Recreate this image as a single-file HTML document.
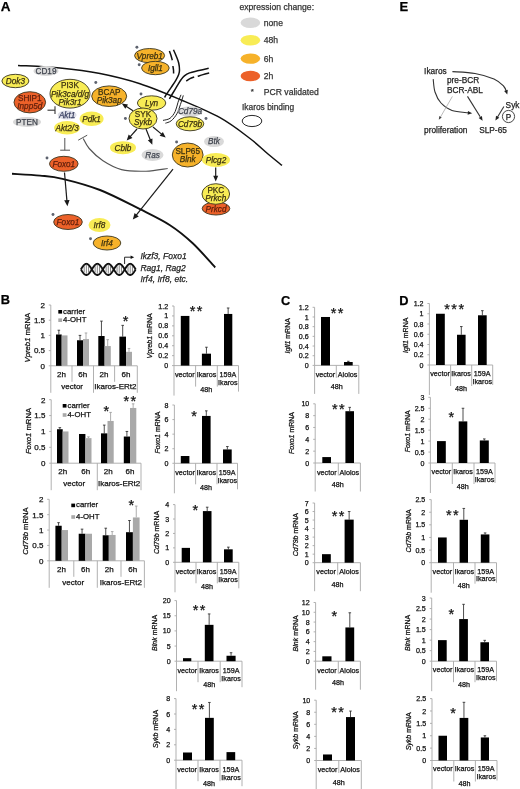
<!DOCTYPE html>
<html><head><meta charset="utf-8"><style>
html,body{margin:0;padding:0;background:#fff;}
svg{display:block;will-change:transform;filter:blur(0.35px);font-family:"Liberation Sans", sans-serif;}
</style></head><body>
<svg width="520" height="789" viewBox="0 0 520 789">
<rect width="520" height="789" fill="#fff"/>
<text x="0.80" y="11.20" font-size="13.5" text-anchor="start" fill="#000" stroke="#000" stroke-width="0.25" font-weight="bold" >A</text>
<path d="M18.00,65.40 C25.00,65.83 46.33,66.63 60.00,68.00 C73.67,69.37 86.67,70.97 100.00,73.60 C113.33,76.23 126.67,79.48 140.00,83.80 C153.33,88.12 166.67,93.85 180.00,99.50 C193.33,105.15 208.33,111.20 220.00,117.70 C231.67,124.20 242.00,132.45 250.00,138.50 C258.00,144.55 262.67,149.52 268.00,154.00 C273.33,158.48 279.67,163.50 282.00,165.40" stroke="#111" stroke-width="1.5" fill="none" />
<path d="M12.00,173.80 C16.67,174.10 31.58,174.77 40.00,175.60 C48.42,176.43 52.50,176.40 62.50,178.80 C72.50,181.20 87.08,184.93 100.00,190.00 C112.92,195.07 128.33,203.33 140.00,209.20 C151.67,215.07 161.17,219.48 170.00,225.20 C178.83,230.92 185.47,236.45 193.00,243.50 C200.53,250.55 211.50,263.50 215.20,267.50" stroke="#111" stroke-width="1.9" fill="none" />
<path d="M167.70,168.50 C164.08,168.95 153.70,171.02 146.00,171.20 C138.30,171.38 128.67,171.33 121.50,169.60 C114.33,167.87 108.38,164.32 103.00,160.80 C97.62,157.28 92.50,152.22 89.20,148.50 C85.90,144.78 84.20,140.17 83.20,138.50" stroke="#555" stroke-width="1.15" fill="none" />
<line x1="78.20" y1="140.20" x2="87.20" y2="135.20" stroke="#555" stroke-width="1.0" />
<path d="M173.50,49.80 C173.97,50.87 175.43,54.00 176.30,56.20 C177.17,58.40 178.17,60.70 178.70,63.00 C179.23,65.30 179.50,68.07 179.50,70.00 C179.50,71.93 179.32,72.87 178.70,74.60 C178.08,76.33 177.05,78.28 175.80,80.40 C174.55,82.52 172.75,85.00 171.20,87.30 C169.65,89.60 167.60,92.50 166.50,94.20 C165.40,95.90 164.92,96.95 164.60,97.50" stroke="#111" stroke-width="1.5" fill="none" />
<path d="M169.40,51.00 C169.67,51.75 170.52,53.97 171.00,55.50 C171.48,57.03 172.08,59.42 172.30,60.20" stroke="#111" stroke-width="1.5" fill="none" />
<path d="M172.90,66.00 C173.00,66.67 173.38,68.75 173.50,70.00 C173.62,71.25 173.58,72.92 173.60,73.50" stroke="#111" stroke-width="1.5" fill="none" />
<path d="M208.70,68.30 C207.05,68.68 201.98,69.83 198.80,70.60 C195.62,71.37 192.00,72.03 189.60,72.90 C187.20,73.77 185.83,74.65 184.40,75.80 C182.97,76.95 182.23,78.07 181.00,79.80 C179.77,81.53 178.35,84.00 177.00,86.20 C175.65,88.40 174.17,90.90 172.90,93.00 C171.63,95.10 169.98,97.83 169.40,98.80" stroke="#111" stroke-width="1.5" fill="none" />
<path d="M209.20,72.90 C208.17,73.18 204.92,74.03 203.00,74.60 C201.08,75.17 198.58,76.02 197.70,76.30" stroke="#111" stroke-width="1.5" fill="none" />
<path d="M194.20,76.90 C193.50,77.18 191.33,77.92 190.00,78.60 C188.67,79.28 186.83,80.60 186.20,81.00" stroke="#111" stroke-width="1.5" fill="none" />
<path d="M181.00,94.80 C180.50,96.05 178.97,99.52 178.00,102.30 C177.03,105.08 176.53,108.83 175.20,111.50 C173.87,114.17 172.03,116.82 170.00,118.30 C167.97,119.78 164.17,120.05 163.00,120.40" stroke="#222" stroke-width="1.0" fill="none" />
<path d="M183.30,95.40 C182.82,96.93 181.47,101.53 180.40,104.60 C179.33,107.67 178.43,111.10 176.90,113.80 C175.37,116.50 173.12,119.23 171.20,120.80 C169.28,122.37 166.37,122.80 165.40,123.20" stroke="#222" stroke-width="1.0" fill="none" />
<line x1="47.50" y1="110.20" x2="55.00" y2="110.20" stroke="#333" stroke-width="1.1" />
<line x1="55.00" y1="106.30" x2="55.00" y2="114.00" stroke="#333" stroke-width="1.1" />
<line x1="64.80" y1="138.00" x2="64.80" y2="150.20" stroke="#555" stroke-width="1.0" />
<line x1="60.20" y1="150.20" x2="70.00" y2="150.20" stroke="#555" stroke-width="1.0" />
<line x1="64.50" y1="172.50" x2="66.98" y2="201.36" stroke="#1a1a1a" stroke-width="1.2" />
<polygon points="67.40,206.30 64.18,200.35 69.56,199.89" fill="#1a1a1a"/>
<line x1="133.00" y1="110.80" x2="125.69" y2="106.03" stroke="#1a1a1a" stroke-width="1.2" />
<polygon points="121.80,103.50 128.02,104.57 125.29,108.76" fill="#1a1a1a"/>
<line x1="137.00" y1="129.00" x2="129.78" y2="137.13" stroke="#1a1a1a" stroke-width="1.2" />
<polygon points="126.70,140.60 128.68,134.60 132.42,137.92" fill="#1a1a1a"/>
<line x1="146.00" y1="129.00" x2="150.58" y2="140.49" stroke="#1a1a1a" stroke-width="1.2" />
<polygon points="152.30,144.80 147.83,140.34 152.47,138.49" fill="#1a1a1a"/>
<line x1="153.00" y1="127.00" x2="162.14" y2="134.63" stroke="#1a1a1a" stroke-width="1.2" />
<polygon points="165.70,137.60 159.65,135.80 162.85,131.96" fill="#1a1a1a"/>
<line x1="173.00" y1="169.20" x2="135.89" y2="215.72" stroke="#1a1a1a" stroke-width="1.2" />
<polygon points="132.80,219.60 134.56,213.07 138.78,216.44" fill="#1a1a1a"/>
<line x1="215.70" y1="167.50" x2="215.70" y2="176.86" stroke="#1a1a1a" stroke-width="1.2" />
<polygon points="215.70,181.50 213.20,175.70 218.20,175.70" fill="#1a1a1a"/>
<ellipse cx="46" cy="71" rx="12.5" ry="5" fill="#d9d9d9"/>
<text x="46.00" y="73.95" font-size="8.2" text-anchor="middle" fill="#40454f" stroke="#40454f" stroke-width="0.25" >CD19</text>
<ellipse cx="15.4" cy="81" rx="13.5" ry="6.7" fill="#f8ec55" stroke="#3a3520" stroke-width="0.9"/>
<text x="15.40" y="83.95" font-size="8.2" text-anchor="middle" fill="#3a3010" stroke="#3a3010" stroke-width="0.25" font-style="italic" >Dok3</text>
<ellipse cx="29.8" cy="102.3" rx="15.8" ry="10.6" fill="#ec6129" stroke="#3a3520" stroke-width="0.9"/>
<text x="29.80" y="101.25" font-size="8.2" text-anchor="middle" fill="#62200c" stroke="#62200c" stroke-width="0.25" >SHIP1</text>
<text x="29.80" y="109.25" font-size="8.2" text-anchor="middle" fill="#62200c" stroke="#62200c" stroke-width="0.25" font-style="italic" >Inpp5d</text>
<ellipse cx="27" cy="122" rx="14" ry="5" fill="#d9d9d9"/>
<text x="27.00" y="124.95" font-size="8.2" text-anchor="middle" fill="#40454f" stroke="#40454f" stroke-width="0.25" >PTEN</text>
<ellipse cx="70" cy="93.7" rx="20" ry="14.4" fill="#f8ec55" stroke="#3a3520" stroke-width="0.9"/>
<text x="70.00" y="88.45" font-size="8.2" text-anchor="middle" fill="#3a3010" stroke="#3a3010" stroke-width="0.25" >PI3K</text>
<text x="70.00" y="96.65" font-size="8.2" text-anchor="middle" fill="#3a3010" stroke="#3a3010" stroke-width="0.25" font-style="italic" >Pik3ca/d/g</text>
<text x="70.00" y="104.85" font-size="8.2" text-anchor="middle" fill="#3a3010" stroke="#3a3010" stroke-width="0.25" font-style="italic" >Pik3r1</text>
<ellipse cx="109.2" cy="96.2" rx="17.5" ry="10.3" fill="#f6b22a" stroke="#3a3520" stroke-width="0.9"/>
<text x="109.20" y="95.15" font-size="8.2" text-anchor="middle" fill="#3a3010" stroke="#3a3010" stroke-width="0.25" >BCAP</text>
<text x="109.20" y="103.15" font-size="8.2" text-anchor="middle" fill="#3a3010" stroke="#3a3010" stroke-width="0.25" font-style="italic" >Pik3ap</text>
<ellipse cx="67.1" cy="115" rx="9.5" ry="4.6" fill="#dcdde6"/>
<text x="67.10" y="117.95" font-size="8.2" text-anchor="middle" fill="#3b4262" stroke="#3b4262" stroke-width="0.25" font-style="italic" >Akt1</text>
<ellipse cx="91.6" cy="118.8" rx="12" ry="7.3" fill="#f8ec55"/>
<text x="91.60" y="121.75" font-size="8.2" text-anchor="middle" fill="#3a3010" stroke="#3a3010" stroke-width="0.25" font-style="italic" >Pdk1</text>
<ellipse cx="67.1" cy="127.7" rx="13" ry="6.8" fill="#f8ec55"/>
<text x="67.10" y="130.65" font-size="8.2" text-anchor="middle" fill="#3a3010" stroke="#3a3010" stroke-width="0.25" font-style="italic" >Akt2/3</text>
<ellipse cx="149.6" cy="55.6" rx="15" ry="7.1" fill="#f6b22a" stroke="#3a3520" stroke-width="0.9"/>
<text x="149.60" y="58.55" font-size="8.2" text-anchor="middle" fill="#3a3010" stroke="#3a3010" stroke-width="0.25" font-style="italic" >Vpreb1</text>
<ellipse cx="155.4" cy="68" rx="13.8" ry="6.7" fill="#f6b22a" stroke="#3a3520" stroke-width="0.9"/>
<text x="155.40" y="70.95" font-size="8.2" text-anchor="middle" fill="#3a3010" stroke="#3a3010" stroke-width="0.25" font-style="italic" >Igll1</text>
<ellipse cx="151.6" cy="103" rx="14.2" ry="7.2" fill="#f8ec55" stroke="#3a3520" stroke-width="0.9"/>
<text x="151.60" y="105.95" font-size="8.2" text-anchor="middle" fill="#3a3010" stroke="#3a3010" stroke-width="0.25" font-style="italic" >Lyn</text>
<ellipse cx="143" cy="118.5" rx="14" ry="10.5" fill="#f8ec55" stroke="#3a3520" stroke-width="0.9"/>
<text x="143.00" y="117.45" font-size="8.2" text-anchor="middle" fill="#3a3010" stroke="#3a3010" stroke-width="0.25" >SYK</text>
<text x="143.00" y="125.45" font-size="8.2" text-anchor="middle" fill="#3a3010" stroke="#3a3010" stroke-width="0.25" font-style="italic" >Sykb</text>
<ellipse cx="190" cy="111.5" rx="12.5" ry="5.2" fill="#d9d9d9"/>
<text x="190.00" y="114.45" font-size="8.2" text-anchor="middle" fill="#40454f" stroke="#40454f" stroke-width="0.25" font-style="italic" >Cd79a</text>
<ellipse cx="190" cy="123.8" rx="13.8" ry="7" fill="#f8ec55" stroke="#3a3520" stroke-width="0.9"/>
<text x="190.00" y="126.75" font-size="8.2" text-anchor="middle" fill="#3a3010" stroke="#3a3010" stroke-width="0.25" font-style="italic" >Cd79b</text>
<ellipse cx="123" cy="147.7" rx="13" ry="6.5" fill="#f8ec55"/>
<text x="123.00" y="150.65" font-size="8.2" text-anchor="middle" fill="#3a3010" stroke="#3a3010" stroke-width="0.25" font-style="italic" >Cblb</text>
<ellipse cx="152.5" cy="155" rx="11" ry="6" fill="#d9d9d9"/>
<text x="152.50" y="157.95" font-size="8.2" text-anchor="middle" fill="#40454f" stroke="#40454f" stroke-width="0.25" font-style="italic" >Ras</text>
<ellipse cx="187.7" cy="155" rx="15.4" ry="12" fill="#f6b22a" stroke="#3a3520" stroke-width="0.9"/>
<text x="187.70" y="153.85" font-size="8.2" text-anchor="middle" fill="#3a3010" stroke="#3a3010" stroke-width="0.25" >SLP65</text>
<text x="187.70" y="162.05" font-size="8.2" text-anchor="middle" fill="#3a3010" stroke="#3a3010" stroke-width="0.25" font-style="italic" >Blnk</text>
<ellipse cx="214" cy="141.5" rx="10" ry="5.5" fill="#d9d9d9"/>
<text x="214.00" y="144.45" font-size="8.2" text-anchor="middle" fill="#40454f" stroke="#40454f" stroke-width="0.25" font-style="italic" >Btk</text>
<ellipse cx="216" cy="160" rx="14" ry="7" fill="#f8ec55"/>
<text x="216.00" y="162.95" font-size="8.2" text-anchor="middle" fill="#3a3010" stroke="#3a3010" stroke-width="0.25" font-style="italic" >Plcg2</text>
<ellipse cx="216" cy="208.5" rx="13.8" ry="6.5" fill="#ec6129" stroke="#3a3520" stroke-width="0.9"/>
<text x="216.00" y="212.45" font-size="8.2" text-anchor="middle" fill="#62200c" stroke="#62200c" stroke-width="0.25" font-style="italic" >Prkcd</text>
<ellipse cx="215.8" cy="194" rx="13.8" ry="10.3" fill="#f8ec55" stroke="#3a3520" stroke-width="0.9"/>
<text x="215.80" y="192.95" font-size="8.2" text-anchor="middle" fill="#3a3010" stroke="#3a3010" stroke-width="0.25" >PKC</text>
<text x="215.80" y="200.95" font-size="8.2" text-anchor="middle" fill="#3a3010" stroke="#3a3010" stroke-width="0.25" font-style="italic" >Prkch</text>
<ellipse cx="63.8" cy="163.8" rx="14.3" ry="7.5" fill="#ec6129" stroke="#3a3520" stroke-width="0.9"/>
<text x="63.80" y="166.75" font-size="8.2" text-anchor="middle" fill="#62200c" stroke="#62200c" stroke-width="0.25" font-style="italic" >Foxo1</text>
<ellipse cx="68" cy="222" rx="14.3" ry="7.5" fill="#ec6129" stroke="#3a3520" stroke-width="0.9"/>
<text x="68.00" y="224.95" font-size="8.2" text-anchor="middle" fill="#62200c" stroke="#62200c" stroke-width="0.25" font-style="italic" >Foxo1</text>
<ellipse cx="99.5" cy="225" rx="11" ry="7" fill="#f8ec55"/>
<text x="99.50" y="227.95" font-size="8.2" text-anchor="middle" fill="#3a3010" stroke="#3a3010" stroke-width="0.25" font-style="italic" >Irf8</text>
<ellipse cx="107" cy="243" rx="13.8" ry="7" fill="#f6b22a" stroke="#3a3520" stroke-width="0.9"/>
<text x="107.00" y="245.95" font-size="8.2" text-anchor="middle" fill="#3a3010" stroke="#3a3010" stroke-width="0.25" font-style="italic" >Irf4</text>
<circle cx="136.9" cy="47.2" r="1.45" fill="#5d626e"/>
<circle cx="139.2" cy="64.8" r="1.45" fill="#5d626e"/>
<circle cx="141" cy="94" r="1.45" fill="#5d626e"/>
<circle cx="125.4" cy="118.5" r="1.45" fill="#5d626e"/>
<circle cx="95.8" cy="82.5" r="1.45" fill="#5d626e"/>
<circle cx="206" cy="118.5" r="1.45" fill="#5d626e"/>
<circle cx="176.6" cy="142" r="1.45" fill="#5d626e"/>
<circle cx="47" cy="158" r="1.45" fill="#5d626e"/>
<circle cx="53" cy="214.5" r="1.45" fill="#5d626e"/>
<circle cx="90.5" cy="238.8" r="1.45" fill="#5d626e"/>
<line x1="84.19" y1="266.17" x2="84.19" y2="272.63" stroke="#777" stroke-width="0.9" />
<line x1="86.38" y1="265.10" x2="86.38" y2="273.70" stroke="#777" stroke-width="0.9" />
<line x1="88.57" y1="266.17" x2="88.57" y2="272.63" stroke="#777" stroke-width="0.9" />
<line x1="95.15" y1="266.17" x2="95.15" y2="272.63" stroke="#777" stroke-width="0.9" />
<line x1="97.34" y1="265.10" x2="97.34" y2="273.70" stroke="#777" stroke-width="0.9" />
<line x1="99.53" y1="266.17" x2="99.53" y2="272.63" stroke="#777" stroke-width="0.9" />
<line x1="106.11" y1="266.17" x2="106.11" y2="272.63" stroke="#777" stroke-width="0.9" />
<line x1="108.30" y1="265.10" x2="108.30" y2="273.70" stroke="#777" stroke-width="0.9" />
<line x1="110.49" y1="266.17" x2="110.49" y2="272.63" stroke="#777" stroke-width="0.9" />
<line x1="117.07" y1="266.17" x2="117.07" y2="272.63" stroke="#777" stroke-width="0.9" />
<line x1="119.26" y1="265.10" x2="119.26" y2="273.70" stroke="#777" stroke-width="0.9" />
<line x1="121.45" y1="266.17" x2="121.45" y2="272.63" stroke="#777" stroke-width="0.9" />
<line x1="128.03" y1="266.17" x2="128.03" y2="272.63" stroke="#777" stroke-width="0.9" />
<line x1="130.22" y1="265.10" x2="130.22" y2="273.70" stroke="#777" stroke-width="0.9" />
<line x1="132.41" y1="266.17" x2="132.41" y2="272.63" stroke="#777" stroke-width="0.9" />
<polyline points="80.90,269.40 81.17,269.84 81.45,270.28 81.72,270.71 82.00,271.13 82.27,271.54 82.54,271.94 82.82,272.33 83.09,272.69 83.37,273.04 83.64,273.36 83.91,273.66 84.19,273.93 84.46,274.17 84.74,274.39 85.01,274.57 85.28,274.73 85.56,274.85 85.83,274.93 86.11,274.98 86.38,275.00 86.65,274.98 86.93,274.93 87.20,274.85 87.48,274.73 87.75,274.57 88.02,274.39 88.30,274.17 88.57,273.93 88.85,273.66 89.12,273.36 89.39,273.04 89.67,272.69 89.94,272.33 90.22,271.94 90.49,271.54 90.76,271.13 91.04,270.71 91.31,270.28 91.59,269.84 91.86,269.40 92.13,268.96 92.41,268.52 92.68,268.09 92.96,267.67 93.23,267.26 93.50,266.86 93.78,266.47 94.05,266.11 94.33,265.76 94.60,265.44 94.87,265.14 95.15,264.87 95.42,264.63 95.70,264.41 95.97,264.23 96.24,264.07 96.52,263.95 96.79,263.87 97.07,263.82 97.34,263.80 97.61,263.82 97.89,263.87 98.16,263.95 98.44,264.07 98.71,264.23 98.98,264.41 99.26,264.63 99.53,264.87 99.81,265.14 100.08,265.44 100.35,265.76 100.63,266.11 100.90,266.47 101.18,266.86 101.45,267.26 101.72,267.67 102.00,268.09 102.27,268.52 102.55,268.96 102.82,269.40 103.09,269.84 103.37,270.28 103.64,270.71 103.92,271.13 104.19,271.54 104.46,271.94 104.74,272.33 105.01,272.69 105.29,273.04 105.56,273.36 105.83,273.66 106.11,273.93 106.38,274.17 106.66,274.39 106.93,274.57 107.20,274.73 107.48,274.85 107.75,274.93 108.03,274.98 108.30,275.00 108.57,274.98 108.85,274.93 109.12,274.85 109.40,274.73 109.67,274.57 109.94,274.39 110.22,274.17 110.49,273.93 110.77,273.66 111.04,273.36 111.31,273.04 111.59,272.69 111.86,272.33 112.14,271.94 112.41,271.54 112.68,271.13 112.96,270.71 113.23,270.28 113.51,269.84 113.78,269.40 114.05,268.96 114.33,268.52 114.60,268.09 114.88,267.67 115.15,267.26 115.42,266.86 115.70,266.47 115.97,266.11 116.25,265.76 116.52,265.44 116.79,265.14 117.07,264.87 117.34,264.63 117.62,264.41 117.89,264.23 118.16,264.07 118.44,263.95 118.71,263.87 118.99,263.82 119.26,263.80 119.53,263.82 119.81,263.87 120.08,263.95 120.36,264.07 120.63,264.23 120.90,264.41 121.18,264.63 121.45,264.87 121.73,265.14 122.00,265.44 122.27,265.76 122.55,266.11 122.82,266.47 123.10,266.86 123.37,267.26 123.64,267.67 123.92,268.09 124.19,268.52 124.47,268.96 124.74,269.40 125.01,269.84 125.29,270.28 125.56,270.71 125.84,271.13 126.11,271.54 126.38,271.94 126.66,272.33 126.93,272.69 127.21,273.04 127.48,273.36 127.75,273.66 128.03,273.93 128.30,274.17 128.58,274.39 128.85,274.57 129.12,274.73 129.40,274.85 129.67,274.93 129.95,274.98 130.22,275.00 130.49,274.98 130.77,274.93 131.04,274.85 131.32,274.73 131.59,274.57 131.86,274.39 132.14,274.17 132.41,273.93 132.69,273.66 132.96,273.36 133.23,273.04 133.51,272.69 133.78,272.33 134.06,271.94 134.33,271.54 134.60,271.13 134.88,270.71 135.15,270.28 135.43,269.84 135.70,269.40" fill="none" stroke="#111" stroke-width="1.9"/>
<polyline points="80.90,269.40 81.17,268.96 81.45,268.52 81.72,268.09 82.00,267.67 82.27,267.26 82.54,266.86 82.82,266.47 83.09,266.11 83.37,265.76 83.64,265.44 83.91,265.14 84.19,264.87 84.46,264.63 84.74,264.41 85.01,264.23 85.28,264.07 85.56,263.95 85.83,263.87 86.11,263.82 86.38,263.80 86.65,263.82 86.93,263.87 87.20,263.95 87.48,264.07 87.75,264.23 88.02,264.41 88.30,264.63 88.57,264.87 88.85,265.14 89.12,265.44 89.39,265.76 89.67,266.11 89.94,266.47 90.22,266.86 90.49,267.26 90.76,267.67 91.04,268.09 91.31,268.52 91.59,268.96 91.86,269.40 92.13,269.84 92.41,270.28 92.68,270.71 92.96,271.13 93.23,271.54 93.50,271.94 93.78,272.33 94.05,272.69 94.33,273.04 94.60,273.36 94.87,273.66 95.15,273.93 95.42,274.17 95.70,274.39 95.97,274.57 96.24,274.73 96.52,274.85 96.79,274.93 97.07,274.98 97.34,275.00 97.61,274.98 97.89,274.93 98.16,274.85 98.44,274.73 98.71,274.57 98.98,274.39 99.26,274.17 99.53,273.93 99.81,273.66 100.08,273.36 100.35,273.04 100.63,272.69 100.90,272.33 101.18,271.94 101.45,271.54 101.72,271.13 102.00,270.71 102.27,270.28 102.55,269.84 102.82,269.40 103.09,268.96 103.37,268.52 103.64,268.09 103.92,267.67 104.19,267.26 104.46,266.86 104.74,266.47 105.01,266.11 105.29,265.76 105.56,265.44 105.83,265.14 106.11,264.87 106.38,264.63 106.66,264.41 106.93,264.23 107.20,264.07 107.48,263.95 107.75,263.87 108.03,263.82 108.30,263.80 108.57,263.82 108.85,263.87 109.12,263.95 109.40,264.07 109.67,264.23 109.94,264.41 110.22,264.63 110.49,264.87 110.77,265.14 111.04,265.44 111.31,265.76 111.59,266.11 111.86,266.47 112.14,266.86 112.41,267.26 112.68,267.67 112.96,268.09 113.23,268.52 113.51,268.96 113.78,269.40 114.05,269.84 114.33,270.28 114.60,270.71 114.88,271.13 115.15,271.54 115.42,271.94 115.70,272.33 115.97,272.69 116.25,273.04 116.52,273.36 116.79,273.66 117.07,273.93 117.34,274.17 117.62,274.39 117.89,274.57 118.16,274.73 118.44,274.85 118.71,274.93 118.99,274.98 119.26,275.00 119.53,274.98 119.81,274.93 120.08,274.85 120.36,274.73 120.63,274.57 120.90,274.39 121.18,274.17 121.45,273.93 121.73,273.66 122.00,273.36 122.27,273.04 122.55,272.69 122.82,272.33 123.10,271.94 123.37,271.54 123.64,271.13 123.92,270.71 124.19,270.28 124.47,269.84 124.74,269.40 125.01,268.96 125.29,268.52 125.56,268.09 125.84,267.67 126.11,267.26 126.38,266.86 126.66,266.47 126.93,266.11 127.21,265.76 127.48,265.44 127.75,265.14 128.03,264.87 128.30,264.63 128.58,264.41 128.85,264.23 129.12,264.07 129.40,263.95 129.67,263.87 129.95,263.82 130.22,263.80 130.49,263.82 130.77,263.87 131.04,263.95 131.32,264.07 131.59,264.23 131.86,264.41 132.14,264.63 132.41,264.87 132.69,265.14 132.96,265.44 133.23,265.76 133.51,266.11 133.78,266.47 134.06,266.86 134.33,267.26 134.60,267.67 134.88,268.09 135.15,268.52 135.43,268.96 135.70,269.40" fill="none" stroke="#111" stroke-width="1.9"/>
<path d="M124.6,264 L124.6,257.2 L131.5,257.2" stroke="#111" stroke-width="0.9" fill="none" />
<polygon points="134.2,257.2 130.6,255.5 130.6,258.9" fill="#111"/>
<text x="140.40" y="259.20" font-size="8.5" text-anchor="start" fill="#222" stroke="#222" stroke-width="0.25" font-style="italic" >Ikzf3, Foxo1</text>
<text x="140.40" y="270.60" font-size="8.5" text-anchor="start" fill="#222" stroke="#222" stroke-width="0.25" font-style="italic" >Rag1, Rag2</text>
<text x="140.40" y="282.30" font-size="8.5" text-anchor="start" fill="#222" stroke="#222" stroke-width="0.25" font-style="italic" >Irf4, Irf8, etc.</text>
<text x="239.50" y="10.00" font-size="8.6" text-anchor="start" fill="#333" stroke="#333" stroke-width="0.25" >expression change:</text>
<ellipse cx="250.4" cy="22.8" rx="9.8" ry="5.2" fill="#d9d9d9"/>
<text x="263.80" y="26.00" font-size="8.6" text-anchor="start" fill="#333" stroke="#333" stroke-width="0.25" >none</text>
<ellipse cx="250.4" cy="40.2" rx="9.8" ry="5.2" fill="#f8ec55"/>
<text x="263.80" y="43.40" font-size="8.6" text-anchor="start" fill="#333" stroke="#333" stroke-width="0.25" >48h</text>
<ellipse cx="250.4" cy="58.6" rx="9.8" ry="5.2" fill="#f6b22a"/>
<text x="263.80" y="61.80" font-size="8.6" text-anchor="start" fill="#333" stroke="#333" stroke-width="0.25" >6h</text>
<ellipse cx="250.4" cy="76" rx="9.8" ry="5.2" fill="#ec6129"/>
<text x="263.80" y="79.20" font-size="8.6" text-anchor="start" fill="#333" stroke="#333" stroke-width="0.25" >2h</text>
<text x="252.30" y="93.50" font-size="8" text-anchor="middle" fill="#333" stroke="#333" stroke-width="0.25" >*</text>
<text x="263.80" y="95.20" font-size="8.6" text-anchor="start" fill="#333" stroke="#333" stroke-width="0.25" >PCR validated</text>
<text x="242.00" y="109.60" font-size="8.4" text-anchor="start" fill="#333" stroke="#333" stroke-width="0.25" >Ikaros binding</text>
<ellipse cx="252" cy="121" rx="9.8" ry="5.6" fill="none" stroke="#111" stroke-width="0.9"/>
<text x="399.60" y="11.40" font-size="13" text-anchor="start" fill="#000" stroke="#000" stroke-width="0.25" font-weight="bold" >E</text>
<text x="424.10" y="74.20" font-size="8.3" text-anchor="start" fill="#222" stroke="#222" stroke-width="0.25" >Ikaros</text>
<text x="446.90" y="83.30" font-size="8.3" text-anchor="start" fill="#222" stroke="#222" stroke-width="0.25" >pre-BCR</text>
<text x="446.90" y="93.40" font-size="8.3" text-anchor="start" fill="#222" stroke="#222" stroke-width="0.25" >BCR-ABL</text>
<text x="505.60" y="107.50" font-size="8.3" text-anchor="start" fill="#222" stroke="#222" stroke-width="0.25" >Syk</text>
<circle cx="508.5" cy="116.5" r="6.1" fill="none" stroke="#333" stroke-width="0.9"/>
<text x="508.50" y="119.50" font-size="8.2" text-anchor="middle" fill="#222" stroke="#222" stroke-width="0.25" >P</text>
<text x="424.10" y="133.40" font-size="8.3" text-anchor="start" fill="#222" stroke="#222" stroke-width="0.25" >proliferation</text>
<text x="479.20" y="133.40" font-size="8.3" text-anchor="start" fill="#222" stroke="#222" stroke-width="0.25" >SLP-65</text>
<path d="M452.40,71.60 C456.17,71.92 468.07,72.27 475.00,73.50 C481.93,74.73 489.25,76.92 494.00,79.00 C498.75,81.08 501.40,83.83 503.50,86.00 C505.60,88.17 506.08,91.00 506.60,92.00" stroke="#333" stroke-width="1.1" fill="none" />
<polygon points="507.30,94.60 504.14,90.99 507.76,89.83" fill="#222"/>
<path d="M433.20,79.20 C433.50,81.33 433.70,88.03 435.00,92.00 C436.30,95.97 438.17,99.92 441.00,103.00 C443.83,106.08 447.50,108.87 452.00,110.50 C456.50,112.13 465.33,112.42 468.00,112.80" stroke="#333" stroke-width="1.1" fill="none" />
<polygon points="472.20,113.20 467.66,114.74 467.97,110.95" fill="#222"/>
<line x1="452.40" y1="96.40" x2="440.20" y2="117.50" stroke="#aaa" stroke-width="0.8" />
<polygon points="438.80,119.70 439.30,116.06 441.72,117.47" fill="#444"/>
<line x1="467.50" y1="96.40" x2="480.20" y2="116.80" stroke="#333" stroke-width="1.1" />
<polygon points="482.60,120.70 478.66,117.97 481.89,115.96" fill="#222"/>
<line x1="503.90" y1="106.50" x2="497.40" y2="117.20" stroke="#333" stroke-width="1.1" />
<polygon points="495.40,120.60 496.04,115.85 499.30,117.81" fill="#222"/>
<line x1="174.00" y1="306.00" x2="174.00" y2="365.60" stroke="#a8a8a8" stroke-width="0.9" />
<line x1="172.00" y1="365.60" x2="174.00" y2="365.60" stroke="#a8a8a8" stroke-width="0.9" />
<text x="168.10" y="368.16" font-size="7.1" text-anchor="end" fill="#111" stroke="#111" stroke-width="0.25" >0</text>
<line x1="172.00" y1="355.67" x2="174.00" y2="355.67" stroke="#a8a8a8" stroke-width="0.9" />
<text x="168.10" y="358.22" font-size="7.1" text-anchor="end" fill="#111" stroke="#111" stroke-width="0.25" >0.2</text>
<line x1="172.00" y1="345.73" x2="174.00" y2="345.73" stroke="#a8a8a8" stroke-width="0.9" />
<text x="168.10" y="348.29" font-size="7.1" text-anchor="end" fill="#111" stroke="#111" stroke-width="0.25" >0.4</text>
<line x1="172.00" y1="335.80" x2="174.00" y2="335.80" stroke="#a8a8a8" stroke-width="0.9" />
<text x="168.10" y="338.36" font-size="7.1" text-anchor="end" fill="#111" stroke="#111" stroke-width="0.25" >0.6</text>
<line x1="172.00" y1="325.87" x2="174.00" y2="325.87" stroke="#a8a8a8" stroke-width="0.9" />
<text x="168.10" y="328.42" font-size="7.1" text-anchor="end" fill="#111" stroke="#111" stroke-width="0.25" >0.8</text>
<line x1="172.00" y1="315.93" x2="174.00" y2="315.93" stroke="#a8a8a8" stroke-width="0.9" />
<text x="168.10" y="318.49" font-size="7.1" text-anchor="end" fill="#111" stroke="#111" stroke-width="0.25" >1</text>
<line x1="172.00" y1="306.00" x2="174.00" y2="306.00" stroke="#a8a8a8" stroke-width="0.9" />
<text x="168.10" y="308.56" font-size="7.1" text-anchor="end" fill="#111" stroke="#111" stroke-width="0.25" >1.2</text>
<line x1="174.00" y1="365.60" x2="238.50" y2="365.60" stroke="#a8a8a8" stroke-width="0.9" />
<line x1="174.00" y1="365.60" x2="174.00" y2="395.60" stroke="#a8a8a8" stroke-width="0.9" />
<line x1="238.50" y1="365.60" x2="238.50" y2="391.60" stroke="#a8a8a8" stroke-width="0.9" />
<line x1="195.60" y1="365.60" x2="195.60" y2="386.60" stroke="#a8a8a8" stroke-width="0.9" />
<line x1="217.30" y1="365.60" x2="217.30" y2="386.60" stroke="#a8a8a8" stroke-width="0.9" />
<rect x="180.80" y="315.93" width="8.60" height="49.67" fill="#000"/>
<line x1="206.45" y1="353.68" x2="206.45" y2="347.22" stroke="#222" stroke-width="0.8" />
<line x1="205.15" y1="347.22" x2="207.75" y2="347.22" stroke="#222" stroke-width="0.8" />
<rect x="201.90" y="353.68" width="9.10" height="11.92" fill="#000"/>
<line x1="228.15" y1="313.95" x2="228.15" y2="307.99" stroke="#222" stroke-width="0.8" />
<line x1="226.85" y1="307.99" x2="229.45" y2="307.99" stroke="#222" stroke-width="0.8" />
<rect x="224.00" y="313.95" width="8.30" height="51.65" fill="#000"/>
<text x="184.80" y="377.00" font-size="7.2" text-anchor="middle" fill="#111" stroke="#111" stroke-width="0.25" >vector</text>
<text x="206.45" y="377.00" font-size="7.2" text-anchor="middle" fill="#111" stroke="#111" stroke-width="0.25" >Ikaros</text>
<text x="227.90" y="377.00" font-size="7.2" text-anchor="middle" fill="#111" stroke="#111" stroke-width="0.25" >159A</text>
<text x="227.90" y="385.00" font-size="7.2" text-anchor="middle" fill="#111" stroke="#111" stroke-width="0.25" >Ikaros</text>
<text x="206.25" y="391.80" font-size="7.2" text-anchor="middle" fill="#111" stroke="#111" stroke-width="0.25" >48h</text>
<text transform="translate(151.92,335.90) rotate(-90)" x="0" y="0" font-size="7.0" text-anchor="middle" fill="#111" stroke="#111" stroke-width="0.25"><tspan font-style="italic">Vpreb1</tspan> mRNA</text>
<text x="196.70" y="316.11" font-size="14.5" text-anchor="middle" fill="#111" stroke="#111" stroke-width="0.25" letter-spacing="1.4">**</text>
<line x1="174.40" y1="405.00" x2="174.40" y2="463.30" stroke="#a8a8a8" stroke-width="0.9" />
<line x1="172.40" y1="463.30" x2="174.40" y2="463.30" stroke="#a8a8a8" stroke-width="0.9" />
<text x="168.50" y="465.86" font-size="7.1" text-anchor="end" fill="#111" stroke="#111" stroke-width="0.25" >0</text>
<line x1="172.40" y1="448.73" x2="174.40" y2="448.73" stroke="#a8a8a8" stroke-width="0.9" />
<text x="168.50" y="451.28" font-size="7.1" text-anchor="end" fill="#111" stroke="#111" stroke-width="0.25" >2</text>
<line x1="172.40" y1="434.15" x2="174.40" y2="434.15" stroke="#a8a8a8" stroke-width="0.9" />
<text x="168.50" y="436.71" font-size="7.1" text-anchor="end" fill="#111" stroke="#111" stroke-width="0.25" >4</text>
<line x1="172.40" y1="419.57" x2="174.40" y2="419.57" stroke="#a8a8a8" stroke-width="0.9" />
<text x="168.50" y="422.13" font-size="7.1" text-anchor="end" fill="#111" stroke="#111" stroke-width="0.25" >6</text>
<line x1="172.40" y1="405.00" x2="174.40" y2="405.00" stroke="#a8a8a8" stroke-width="0.9" />
<text x="168.50" y="407.56" font-size="7.1" text-anchor="end" fill="#111" stroke="#111" stroke-width="0.25" >8</text>
<line x1="174.40" y1="463.30" x2="237.50" y2="463.30" stroke="#a8a8a8" stroke-width="0.9" />
<line x1="174.40" y1="463.30" x2="174.40" y2="493.30" stroke="#a8a8a8" stroke-width="0.9" />
<line x1="237.50" y1="463.30" x2="237.50" y2="489.30" stroke="#a8a8a8" stroke-width="0.9" />
<line x1="195.60" y1="463.30" x2="195.60" y2="484.30" stroke="#a8a8a8" stroke-width="0.9" />
<line x1="217.00" y1="463.30" x2="217.00" y2="484.30" stroke="#a8a8a8" stroke-width="0.9" />
<rect x="180.80" y="456.01" width="8.60" height="7.29" fill="#000"/>
<line x1="206.30" y1="415.93" x2="206.30" y2="410.83" stroke="#222" stroke-width="0.8" />
<line x1="205.00" y1="410.83" x2="207.60" y2="410.83" stroke="#222" stroke-width="0.8" />
<rect x="202.00" y="415.93" width="8.60" height="47.37" fill="#000"/>
<line x1="227.35" y1="449.45" x2="227.35" y2="446.54" stroke="#222" stroke-width="0.8" />
<line x1="226.05" y1="446.54" x2="228.65" y2="446.54" stroke="#222" stroke-width="0.8" />
<rect x="223.00" y="449.45" width="8.70" height="13.85" fill="#000"/>
<text x="185.00" y="474.70" font-size="7.2" text-anchor="middle" fill="#111" stroke="#111" stroke-width="0.25" >vector</text>
<text x="206.30" y="474.70" font-size="7.2" text-anchor="middle" fill="#111" stroke="#111" stroke-width="0.25" >Ikaros</text>
<text x="227.25" y="474.70" font-size="7.2" text-anchor="middle" fill="#111" stroke="#111" stroke-width="0.25" >159A</text>
<text x="227.25" y="482.70" font-size="7.2" text-anchor="middle" fill="#111" stroke="#111" stroke-width="0.25" >Ikaros</text>
<text x="205.95" y="489.50" font-size="7.2" text-anchor="middle" fill="#111" stroke="#111" stroke-width="0.25" >48h</text>
<text transform="translate(159.52,432.50) rotate(-90)" x="0" y="0" font-size="7.0" text-anchor="middle" fill="#111" stroke="#111" stroke-width="0.25"><tspan font-style="italic">Foxo1</tspan> mRNA</text>
<text x="194.20" y="421.11" font-size="14.5" text-anchor="middle" fill="#111" stroke="#111" stroke-width="0.25" letter-spacing="0">*</text>
<line x1="175.00" y1="504.60" x2="175.00" y2="562.30" stroke="#a8a8a8" stroke-width="0.9" />
<line x1="173.00" y1="562.30" x2="175.00" y2="562.30" stroke="#a8a8a8" stroke-width="0.9" />
<text x="169.10" y="564.86" font-size="7.1" text-anchor="end" fill="#111" stroke="#111" stroke-width="0.25" >0</text>
<line x1="173.00" y1="547.88" x2="175.00" y2="547.88" stroke="#a8a8a8" stroke-width="0.9" />
<text x="169.10" y="550.43" font-size="7.1" text-anchor="end" fill="#111" stroke="#111" stroke-width="0.25" >1</text>
<line x1="173.00" y1="533.45" x2="175.00" y2="533.45" stroke="#a8a8a8" stroke-width="0.9" />
<text x="169.10" y="536.01" font-size="7.1" text-anchor="end" fill="#111" stroke="#111" stroke-width="0.25" >2</text>
<line x1="173.00" y1="519.02" x2="175.00" y2="519.02" stroke="#a8a8a8" stroke-width="0.9" />
<text x="169.10" y="521.58" font-size="7.1" text-anchor="end" fill="#111" stroke="#111" stroke-width="0.25" >3</text>
<line x1="173.00" y1="504.60" x2="175.00" y2="504.60" stroke="#a8a8a8" stroke-width="0.9" />
<text x="169.10" y="507.16" font-size="7.1" text-anchor="end" fill="#111" stroke="#111" stroke-width="0.25" >4</text>
<line x1="175.00" y1="562.30" x2="238.80" y2="562.30" stroke="#a8a8a8" stroke-width="0.9" />
<line x1="175.00" y1="562.30" x2="175.00" y2="592.30" stroke="#a8a8a8" stroke-width="0.9" />
<line x1="238.80" y1="562.30" x2="238.80" y2="588.30" stroke="#a8a8a8" stroke-width="0.9" />
<line x1="196.00" y1="562.30" x2="196.00" y2="583.30" stroke="#a8a8a8" stroke-width="0.9" />
<line x1="217.30" y1="562.30" x2="217.30" y2="583.30" stroke="#a8a8a8" stroke-width="0.9" />
<rect x="181.70" y="547.88" width="8.30" height="14.42" fill="#000"/>
<line x1="207.20" y1="511.09" x2="207.20" y2="507.20" stroke="#222" stroke-width="0.8" />
<line x1="205.90" y1="507.20" x2="208.50" y2="507.20" stroke="#222" stroke-width="0.8" />
<rect x="202.90" y="511.09" width="8.60" height="51.21" fill="#000"/>
<line x1="228.35" y1="549.32" x2="228.35" y2="547.15" stroke="#222" stroke-width="0.8" />
<line x1="227.05" y1="547.15" x2="229.65" y2="547.15" stroke="#222" stroke-width="0.8" />
<rect x="224.00" y="549.32" width="8.70" height="12.98" fill="#000"/>
<text x="185.50" y="573.70" font-size="7.2" text-anchor="middle" fill="#111" stroke="#111" stroke-width="0.25" >vector</text>
<text x="206.65" y="573.70" font-size="7.2" text-anchor="middle" fill="#111" stroke="#111" stroke-width="0.25" >Ikaros</text>
<text x="228.05" y="573.70" font-size="7.2" text-anchor="middle" fill="#111" stroke="#111" stroke-width="0.25" >159A</text>
<text x="228.05" y="581.70" font-size="7.2" text-anchor="middle" fill="#111" stroke="#111" stroke-width="0.25" >Ikaros</text>
<text x="206.90" y="588.50" font-size="7.2" text-anchor="middle" fill="#111" stroke="#111" stroke-width="0.25" >48h</text>
<text transform="translate(158.52,532.50) rotate(-90)" x="0" y="0" font-size="7.0" text-anchor="middle" fill="#111" stroke="#111" stroke-width="0.25"><tspan font-style="italic">Cd79b</tspan> mRNA</text>
<text x="195.30" y="515.40" font-size="14.5" text-anchor="middle" fill="#111" stroke="#111" stroke-width="0.25" letter-spacing="0">*</text>
<line x1="176.50" y1="600.60" x2="176.50" y2="661.20" stroke="#a8a8a8" stroke-width="0.9" />
<line x1="174.50" y1="661.20" x2="176.50" y2="661.20" stroke="#a8a8a8" stroke-width="0.9" />
<text x="170.60" y="663.76" font-size="7.1" text-anchor="end" fill="#111" stroke="#111" stroke-width="0.25" >0</text>
<line x1="174.50" y1="646.05" x2="176.50" y2="646.05" stroke="#a8a8a8" stroke-width="0.9" />
<text x="170.60" y="648.61" font-size="7.1" text-anchor="end" fill="#111" stroke="#111" stroke-width="0.25" >5</text>
<line x1="174.50" y1="630.90" x2="176.50" y2="630.90" stroke="#a8a8a8" stroke-width="0.9" />
<text x="170.60" y="633.46" font-size="7.1" text-anchor="end" fill="#111" stroke="#111" stroke-width="0.25" >10</text>
<line x1="174.50" y1="615.75" x2="176.50" y2="615.75" stroke="#a8a8a8" stroke-width="0.9" />
<text x="170.60" y="618.31" font-size="7.1" text-anchor="end" fill="#111" stroke="#111" stroke-width="0.25" >15</text>
<line x1="174.50" y1="600.60" x2="176.50" y2="600.60" stroke="#a8a8a8" stroke-width="0.9" />
<text x="170.60" y="603.16" font-size="7.1" text-anchor="end" fill="#111" stroke="#111" stroke-width="0.25" >20</text>
<line x1="176.50" y1="661.20" x2="242.00" y2="661.20" stroke="#a8a8a8" stroke-width="0.9" />
<line x1="176.50" y1="661.20" x2="176.50" y2="691.20" stroke="#a8a8a8" stroke-width="0.9" />
<line x1="242.00" y1="661.20" x2="242.00" y2="687.20" stroke="#a8a8a8" stroke-width="0.9" />
<line x1="198.00" y1="661.20" x2="198.00" y2="682.20" stroke="#a8a8a8" stroke-width="0.9" />
<line x1="220.20" y1="661.20" x2="220.20" y2="682.20" stroke="#a8a8a8" stroke-width="0.9" />
<rect x="183.00" y="658.17" width="8.30" height="3.03" fill="#000"/>
<line x1="209.15" y1="624.84" x2="209.15" y2="613.93" stroke="#222" stroke-width="0.8" />
<line x1="207.85" y1="613.93" x2="210.45" y2="613.93" stroke="#222" stroke-width="0.8" />
<rect x="204.80" y="624.84" width="8.70" height="36.36" fill="#000"/>
<line x1="231.05" y1="655.75" x2="231.05" y2="652.72" stroke="#222" stroke-width="0.8" />
<line x1="229.75" y1="652.72" x2="232.35" y2="652.72" stroke="#222" stroke-width="0.8" />
<rect x="226.50" y="655.75" width="9.10" height="5.45" fill="#000"/>
<text x="187.25" y="672.60" font-size="7.2" text-anchor="middle" fill="#111" stroke="#111" stroke-width="0.25" >vector</text>
<text x="209.10" y="672.60" font-size="7.2" text-anchor="middle" fill="#111" stroke="#111" stroke-width="0.25" >Ikaros</text>
<text x="231.10" y="672.60" font-size="7.2" text-anchor="middle" fill="#111" stroke="#111" stroke-width="0.25" >159A</text>
<text x="231.10" y="680.60" font-size="7.2" text-anchor="middle" fill="#111" stroke="#111" stroke-width="0.25" >Ikaros</text>
<text x="209.25" y="687.40" font-size="7.2" text-anchor="middle" fill="#111" stroke="#111" stroke-width="0.25" >48h</text>
<text transform="translate(156.72,632.80) rotate(-90)" x="0" y="0" font-size="7.0" text-anchor="middle" fill="#111" stroke="#111" stroke-width="0.25"><tspan font-style="italic">Blnk</tspan> mRNA</text>
<text x="199.70" y="614.61" font-size="14.5" text-anchor="middle" fill="#111" stroke="#111" stroke-width="0.25" letter-spacing="1.4">**</text>
<line x1="176.00" y1="698.60" x2="176.00" y2="760.20" stroke="#a8a8a8" stroke-width="0.9" />
<line x1="174.00" y1="760.20" x2="176.00" y2="760.20" stroke="#a8a8a8" stroke-width="0.9" />
<text x="170.10" y="762.76" font-size="7.1" text-anchor="end" fill="#111" stroke="#111" stroke-width="0.25" >0</text>
<line x1="174.00" y1="744.80" x2="176.00" y2="744.80" stroke="#a8a8a8" stroke-width="0.9" />
<text x="170.10" y="747.36" font-size="7.1" text-anchor="end" fill="#111" stroke="#111" stroke-width="0.25" >2</text>
<line x1="174.00" y1="729.40" x2="176.00" y2="729.40" stroke="#a8a8a8" stroke-width="0.9" />
<text x="170.10" y="731.96" font-size="7.1" text-anchor="end" fill="#111" stroke="#111" stroke-width="0.25" >4</text>
<line x1="174.00" y1="714.00" x2="176.00" y2="714.00" stroke="#a8a8a8" stroke-width="0.9" />
<text x="170.10" y="716.56" font-size="7.1" text-anchor="end" fill="#111" stroke="#111" stroke-width="0.25" >6</text>
<line x1="174.00" y1="698.60" x2="176.00" y2="698.60" stroke="#a8a8a8" stroke-width="0.9" />
<text x="170.10" y="701.16" font-size="7.1" text-anchor="end" fill="#111" stroke="#111" stroke-width="0.25" >8</text>
<line x1="176.00" y1="760.20" x2="242.00" y2="760.20" stroke="#a8a8a8" stroke-width="0.9" />
<line x1="176.00" y1="760.20" x2="176.00" y2="790.20" stroke="#a8a8a8" stroke-width="0.9" />
<line x1="242.00" y1="760.20" x2="242.00" y2="786.20" stroke="#a8a8a8" stroke-width="0.9" />
<line x1="198.00" y1="760.20" x2="198.00" y2="781.20" stroke="#a8a8a8" stroke-width="0.9" />
<line x1="220.00" y1="760.20" x2="220.00" y2="781.20" stroke="#a8a8a8" stroke-width="0.9" />
<rect x="183.00" y="752.50" width="9.00" height="7.70" fill="#000"/>
<line x1="209.40" y1="717.85" x2="209.40" y2="702.45" stroke="#222" stroke-width="0.8" />
<line x1="208.10" y1="702.45" x2="210.70" y2="702.45" stroke="#222" stroke-width="0.8" />
<rect x="205.00" y="717.85" width="8.80" height="42.35" fill="#000"/>
<rect x="226.50" y="752.12" width="8.70" height="8.09" fill="#000"/>
<text x="187.00" y="771.60" font-size="7.2" text-anchor="middle" fill="#111" stroke="#111" stroke-width="0.25" >vector</text>
<text x="209.00" y="771.60" font-size="7.2" text-anchor="middle" fill="#111" stroke="#111" stroke-width="0.25" >Ikaros</text>
<text x="231.00" y="771.60" font-size="7.2" text-anchor="middle" fill="#111" stroke="#111" stroke-width="0.25" >159A</text>
<text x="231.00" y="779.60" font-size="7.2" text-anchor="middle" fill="#111" stroke="#111" stroke-width="0.25" >Ikaros</text>
<text x="209.00" y="786.40" font-size="7.2" text-anchor="middle" fill="#111" stroke="#111" stroke-width="0.25" >48h</text>
<text transform="translate(158.32,729.00) rotate(-90)" x="0" y="0" font-size="7.0" text-anchor="middle" fill="#111" stroke="#111" stroke-width="0.25"><tspan font-style="italic">Sykb</tspan> mRNA</text>
<text x="198.70" y="713.61" font-size="14.5" text-anchor="middle" fill="#111" stroke="#111" stroke-width="0.25" letter-spacing="1.4">**</text>
<line x1="314.60" y1="307.30" x2="314.60" y2="365.40" stroke="#a8a8a8" stroke-width="0.9" />
<line x1="312.60" y1="365.40" x2="314.60" y2="365.40" stroke="#a8a8a8" stroke-width="0.9" />
<text x="308.70" y="367.96" font-size="7.1" text-anchor="end" fill="#111" stroke="#111" stroke-width="0.25" >0</text>
<line x1="312.60" y1="355.72" x2="314.60" y2="355.72" stroke="#a8a8a8" stroke-width="0.9" />
<text x="308.70" y="358.27" font-size="7.1" text-anchor="end" fill="#111" stroke="#111" stroke-width="0.25" >0.2</text>
<line x1="312.60" y1="346.03" x2="314.60" y2="346.03" stroke="#a8a8a8" stroke-width="0.9" />
<text x="308.70" y="348.59" font-size="7.1" text-anchor="end" fill="#111" stroke="#111" stroke-width="0.25" >0.4</text>
<line x1="312.60" y1="336.35" x2="314.60" y2="336.35" stroke="#a8a8a8" stroke-width="0.9" />
<text x="308.70" y="338.91" font-size="7.1" text-anchor="end" fill="#111" stroke="#111" stroke-width="0.25" >0.6</text>
<line x1="312.60" y1="326.67" x2="314.60" y2="326.67" stroke="#a8a8a8" stroke-width="0.9" />
<text x="308.70" y="329.22" font-size="7.1" text-anchor="end" fill="#111" stroke="#111" stroke-width="0.25" >0.8</text>
<line x1="312.60" y1="316.98" x2="314.60" y2="316.98" stroke="#a8a8a8" stroke-width="0.9" />
<text x="308.70" y="319.54" font-size="7.1" text-anchor="end" fill="#111" stroke="#111" stroke-width="0.25" >1</text>
<line x1="312.60" y1="307.30" x2="314.60" y2="307.30" stroke="#a8a8a8" stroke-width="0.9" />
<text x="308.70" y="309.86" font-size="7.1" text-anchor="end" fill="#111" stroke="#111" stroke-width="0.25" >1.2</text>
<line x1="314.60" y1="365.40" x2="358.80" y2="365.40" stroke="#a8a8a8" stroke-width="0.9" />
<line x1="314.60" y1="365.40" x2="314.60" y2="393.90" stroke="#a8a8a8" stroke-width="0.9" />
<line x1="358.80" y1="365.40" x2="358.80" y2="393.90" stroke="#a8a8a8" stroke-width="0.9" />
<line x1="336.30" y1="365.40" x2="336.30" y2="377.90" stroke="#a8a8a8" stroke-width="0.9" />
<rect x="321.00" y="316.98" width="9.00" height="48.42" fill="#000"/>
<line x1="348.35" y1="362.01" x2="348.35" y2="361.28" stroke="#222" stroke-width="0.8" />
<line x1="347.05" y1="361.28" x2="349.65" y2="361.28" stroke="#222" stroke-width="0.8" />
<rect x="344.00" y="362.01" width="8.70" height="3.39" fill="#000"/>
<text x="325.45" y="377.00" font-size="7.2" text-anchor="middle" fill="#111" stroke="#111" stroke-width="0.25" >vector</text>
<text x="347.55" y="377.00" font-size="7.2" text-anchor="middle" fill="#111" stroke="#111" stroke-width="0.25" >Aiolos</text>
<text x="336.70" y="389.40" font-size="7.2" text-anchor="middle" fill="#111" stroke="#111" stroke-width="0.25" >48h</text>
<text transform="translate(289.82,335.80) rotate(-90)" x="0" y="0" font-size="7.0" text-anchor="middle" fill="#111" stroke="#111" stroke-width="0.25"><tspan font-style="italic">Igll1</tspan> mRNA</text>
<text x="337.70" y="318.11" font-size="14.5" text-anchor="middle" fill="#111" stroke="#111" stroke-width="0.25" letter-spacing="1.4">**</text>
<line x1="315.20" y1="403.80" x2="315.20" y2="463.00" stroke="#a8a8a8" stroke-width="0.9" />
<line x1="313.20" y1="463.00" x2="315.20" y2="463.00" stroke="#a8a8a8" stroke-width="0.9" />
<text x="309.30" y="465.56" font-size="7.1" text-anchor="end" fill="#111" stroke="#111" stroke-width="0.25" >0</text>
<line x1="313.20" y1="451.16" x2="315.20" y2="451.16" stroke="#a8a8a8" stroke-width="0.9" />
<text x="309.30" y="453.72" font-size="7.1" text-anchor="end" fill="#111" stroke="#111" stroke-width="0.25" >2</text>
<line x1="313.20" y1="439.32" x2="315.20" y2="439.32" stroke="#a8a8a8" stroke-width="0.9" />
<text x="309.30" y="441.88" font-size="7.1" text-anchor="end" fill="#111" stroke="#111" stroke-width="0.25" >4</text>
<line x1="313.20" y1="427.48" x2="315.20" y2="427.48" stroke="#a8a8a8" stroke-width="0.9" />
<text x="309.30" y="430.04" font-size="7.1" text-anchor="end" fill="#111" stroke="#111" stroke-width="0.25" >6</text>
<line x1="313.20" y1="415.64" x2="315.20" y2="415.64" stroke="#a8a8a8" stroke-width="0.9" />
<text x="309.30" y="418.20" font-size="7.1" text-anchor="end" fill="#111" stroke="#111" stroke-width="0.25" >8</text>
<line x1="313.20" y1="403.80" x2="315.20" y2="403.80" stroke="#a8a8a8" stroke-width="0.9" />
<text x="309.30" y="406.36" font-size="7.1" text-anchor="end" fill="#111" stroke="#111" stroke-width="0.25" >10</text>
<line x1="315.20" y1="463.00" x2="360.40" y2="463.00" stroke="#a8a8a8" stroke-width="0.9" />
<line x1="315.20" y1="463.00" x2="315.20" y2="491.50" stroke="#a8a8a8" stroke-width="0.9" />
<line x1="360.40" y1="463.00" x2="360.40" y2="491.50" stroke="#a8a8a8" stroke-width="0.9" />
<line x1="338.30" y1="463.00" x2="338.30" y2="475.50" stroke="#a8a8a8" stroke-width="0.9" />
<rect x="322.30" y="457.08" width="8.70" height="5.92" fill="#000"/>
<line x1="349.70" y1="411.20" x2="349.70" y2="407.35" stroke="#222" stroke-width="0.8" />
<line x1="348.40" y1="407.35" x2="351.00" y2="407.35" stroke="#222" stroke-width="0.8" />
<rect x="345.40" y="411.20" width="8.60" height="51.80" fill="#000"/>
<text x="326.75" y="474.60" font-size="7.2" text-anchor="middle" fill="#111" stroke="#111" stroke-width="0.25" >vector</text>
<text x="349.35" y="474.60" font-size="7.2" text-anchor="middle" fill="#111" stroke="#111" stroke-width="0.25" >Aiolos</text>
<text x="337.80" y="487.00" font-size="7.2" text-anchor="middle" fill="#111" stroke="#111" stroke-width="0.25" >48h</text>
<text transform="translate(293.82,433.00) rotate(-90)" x="0" y="0" font-size="7.0" text-anchor="middle" fill="#111" stroke="#111" stroke-width="0.25"><tspan font-style="italic">Foxo1</tspan> mRNA</text>
<text x="339.00" y="414.11" font-size="14.5" text-anchor="middle" fill="#111" stroke="#111" stroke-width="0.25" letter-spacing="1.4">**</text>
<line x1="314.60" y1="503.00" x2="314.60" y2="562.70" stroke="#a8a8a8" stroke-width="0.9" />
<line x1="312.60" y1="562.70" x2="314.60" y2="562.70" stroke="#a8a8a8" stroke-width="0.9" />
<text x="308.70" y="565.26" font-size="7.1" text-anchor="end" fill="#111" stroke="#111" stroke-width="0.25" >0</text>
<line x1="312.60" y1="554.17" x2="314.60" y2="554.17" stroke="#a8a8a8" stroke-width="0.9" />
<text x="308.70" y="556.73" font-size="7.1" text-anchor="end" fill="#111" stroke="#111" stroke-width="0.25" >1</text>
<line x1="312.60" y1="545.64" x2="314.60" y2="545.64" stroke="#a8a8a8" stroke-width="0.9" />
<text x="308.70" y="548.20" font-size="7.1" text-anchor="end" fill="#111" stroke="#111" stroke-width="0.25" >2</text>
<line x1="312.60" y1="537.11" x2="314.60" y2="537.11" stroke="#a8a8a8" stroke-width="0.9" />
<text x="308.70" y="539.67" font-size="7.1" text-anchor="end" fill="#111" stroke="#111" stroke-width="0.25" >3</text>
<line x1="312.60" y1="528.59" x2="314.60" y2="528.59" stroke="#a8a8a8" stroke-width="0.9" />
<text x="308.70" y="531.14" font-size="7.1" text-anchor="end" fill="#111" stroke="#111" stroke-width="0.25" >4</text>
<line x1="312.60" y1="520.06" x2="314.60" y2="520.06" stroke="#a8a8a8" stroke-width="0.9" />
<text x="308.70" y="522.61" font-size="7.1" text-anchor="end" fill="#111" stroke="#111" stroke-width="0.25" >5</text>
<line x1="312.60" y1="511.53" x2="314.60" y2="511.53" stroke="#a8a8a8" stroke-width="0.9" />
<text x="308.70" y="514.08" font-size="7.1" text-anchor="end" fill="#111" stroke="#111" stroke-width="0.25" >6</text>
<line x1="312.60" y1="503.00" x2="314.60" y2="503.00" stroke="#a8a8a8" stroke-width="0.9" />
<text x="308.70" y="505.56" font-size="7.1" text-anchor="end" fill="#111" stroke="#111" stroke-width="0.25" >7</text>
<line x1="314.60" y1="562.70" x2="360.40" y2="562.70" stroke="#a8a8a8" stroke-width="0.9" />
<line x1="314.60" y1="562.70" x2="314.60" y2="591.20" stroke="#a8a8a8" stroke-width="0.9" />
<line x1="360.40" y1="562.70" x2="360.40" y2="591.20" stroke="#a8a8a8" stroke-width="0.9" />
<line x1="337.70" y1="562.70" x2="337.70" y2="575.20" stroke="#a8a8a8" stroke-width="0.9" />
<rect x="322.00" y="554.17" width="8.80" height="8.53" fill="#000"/>
<line x1="349.15" y1="519.63" x2="349.15" y2="511.53" stroke="#222" stroke-width="0.8" />
<line x1="347.85" y1="511.53" x2="350.45" y2="511.53" stroke="#222" stroke-width="0.8" />
<rect x="344.60" y="519.63" width="9.10" height="43.07" fill="#000"/>
<text x="326.15" y="574.30" font-size="7.2" text-anchor="middle" fill="#111" stroke="#111" stroke-width="0.25" >vector</text>
<text x="349.05" y="574.30" font-size="7.2" text-anchor="middle" fill="#111" stroke="#111" stroke-width="0.25" >Aiolos</text>
<text x="337.50" y="586.70" font-size="7.2" text-anchor="middle" fill="#111" stroke="#111" stroke-width="0.25" >48h</text>
<text transform="translate(297.52,534.60) rotate(-90)" x="0" y="0" font-size="7.0" text-anchor="middle" fill="#111" stroke="#111" stroke-width="0.25"><tspan font-style="italic">Cd79b</tspan> mRNA</text>
<text x="338.70" y="521.40" font-size="14.5" text-anchor="middle" fill="#111" stroke="#111" stroke-width="0.25" letter-spacing="1.4">**</text>
<line x1="315.60" y1="602.50" x2="315.60" y2="661.20" stroke="#a8a8a8" stroke-width="0.9" />
<line x1="313.60" y1="661.20" x2="315.60" y2="661.20" stroke="#a8a8a8" stroke-width="0.9" />
<text x="309.70" y="663.76" font-size="7.1" text-anchor="end" fill="#111" stroke="#111" stroke-width="0.25" >0</text>
<line x1="313.60" y1="651.42" x2="315.60" y2="651.42" stroke="#a8a8a8" stroke-width="0.9" />
<text x="309.70" y="653.97" font-size="7.1" text-anchor="end" fill="#111" stroke="#111" stroke-width="0.25" >2</text>
<line x1="313.60" y1="641.63" x2="315.60" y2="641.63" stroke="#a8a8a8" stroke-width="0.9" />
<text x="309.70" y="644.19" font-size="7.1" text-anchor="end" fill="#111" stroke="#111" stroke-width="0.25" >4</text>
<line x1="313.60" y1="631.85" x2="315.60" y2="631.85" stroke="#a8a8a8" stroke-width="0.9" />
<text x="309.70" y="634.41" font-size="7.1" text-anchor="end" fill="#111" stroke="#111" stroke-width="0.25" >6</text>
<line x1="313.60" y1="622.07" x2="315.60" y2="622.07" stroke="#a8a8a8" stroke-width="0.9" />
<text x="309.70" y="624.62" font-size="7.1" text-anchor="end" fill="#111" stroke="#111" stroke-width="0.25" >8</text>
<line x1="313.60" y1="612.28" x2="315.60" y2="612.28" stroke="#a8a8a8" stroke-width="0.9" />
<text x="309.70" y="614.84" font-size="7.1" text-anchor="end" fill="#111" stroke="#111" stroke-width="0.25" >10</text>
<line x1="313.60" y1="602.50" x2="315.60" y2="602.50" stroke="#a8a8a8" stroke-width="0.9" />
<text x="309.70" y="605.06" font-size="7.1" text-anchor="end" fill="#111" stroke="#111" stroke-width="0.25" >12</text>
<line x1="315.60" y1="661.20" x2="360.40" y2="661.20" stroke="#a8a8a8" stroke-width="0.9" />
<line x1="315.60" y1="661.20" x2="315.60" y2="689.70" stroke="#a8a8a8" stroke-width="0.9" />
<line x1="360.40" y1="661.20" x2="360.40" y2="689.70" stroke="#a8a8a8" stroke-width="0.9" />
<line x1="338.30" y1="661.20" x2="338.30" y2="673.70" stroke="#a8a8a8" stroke-width="0.9" />
<rect x="322.30" y="656.31" width="9.20" height="4.89" fill="#000"/>
<line x1="349.80" y1="627.45" x2="349.80" y2="612.77" stroke="#222" stroke-width="0.8" />
<line x1="348.50" y1="612.77" x2="351.10" y2="612.77" stroke="#222" stroke-width="0.8" />
<rect x="345.40" y="627.45" width="8.80" height="33.75" fill="#000"/>
<text x="326.95" y="672.80" font-size="7.2" text-anchor="middle" fill="#111" stroke="#111" stroke-width="0.25" >vector</text>
<text x="349.35" y="672.80" font-size="7.2" text-anchor="middle" fill="#111" stroke="#111" stroke-width="0.25" >Aiolos</text>
<text x="338.00" y="685.20" font-size="7.2" text-anchor="middle" fill="#111" stroke="#111" stroke-width="0.25" >48h</text>
<text transform="translate(297.52,633.30) rotate(-90)" x="0" y="0" font-size="7.0" text-anchor="middle" fill="#111" stroke="#111" stroke-width="0.25"><tspan font-style="italic">Blnk</tspan> mRNA</text>
<text x="334.30" y="620.90" font-size="14.5" text-anchor="middle" fill="#111" stroke="#111" stroke-width="0.25" letter-spacing="0">*</text>
<line x1="316.20" y1="700.20" x2="316.20" y2="760.50" stroke="#a8a8a8" stroke-width="0.9" />
<line x1="314.20" y1="760.50" x2="316.20" y2="760.50" stroke="#a8a8a8" stroke-width="0.9" />
<text x="310.30" y="763.06" font-size="7.1" text-anchor="end" fill="#111" stroke="#111" stroke-width="0.25" >0</text>
<line x1="314.20" y1="748.44" x2="316.20" y2="748.44" stroke="#a8a8a8" stroke-width="0.9" />
<text x="310.30" y="751.00" font-size="7.1" text-anchor="end" fill="#111" stroke="#111" stroke-width="0.25" >2</text>
<line x1="314.20" y1="736.38" x2="316.20" y2="736.38" stroke="#a8a8a8" stroke-width="0.9" />
<text x="310.30" y="738.94" font-size="7.1" text-anchor="end" fill="#111" stroke="#111" stroke-width="0.25" >4</text>
<line x1="314.20" y1="724.32" x2="316.20" y2="724.32" stroke="#a8a8a8" stroke-width="0.9" />
<text x="310.30" y="726.88" font-size="7.1" text-anchor="end" fill="#111" stroke="#111" stroke-width="0.25" >6</text>
<line x1="314.20" y1="712.26" x2="316.20" y2="712.26" stroke="#a8a8a8" stroke-width="0.9" />
<text x="310.30" y="714.82" font-size="7.1" text-anchor="end" fill="#111" stroke="#111" stroke-width="0.25" >8</text>
<line x1="314.20" y1="700.20" x2="316.20" y2="700.20" stroke="#a8a8a8" stroke-width="0.9" />
<text x="310.30" y="702.76" font-size="7.1" text-anchor="end" fill="#111" stroke="#111" stroke-width="0.25" >10</text>
<line x1="316.20" y1="760.50" x2="361.30" y2="760.50" stroke="#a8a8a8" stroke-width="0.9" />
<line x1="316.20" y1="760.50" x2="316.20" y2="789.00" stroke="#a8a8a8" stroke-width="0.9" />
<line x1="361.30" y1="760.50" x2="361.30" y2="789.00" stroke="#a8a8a8" stroke-width="0.9" />
<line x1="338.80" y1="760.50" x2="338.80" y2="773.00" stroke="#a8a8a8" stroke-width="0.9" />
<rect x="323.00" y="754.47" width="9.00" height="6.03" fill="#000"/>
<line x1="350.50" y1="717.08" x2="350.50" y2="711.05" stroke="#222" stroke-width="0.8" />
<line x1="349.20" y1="711.05" x2="351.80" y2="711.05" stroke="#222" stroke-width="0.8" />
<rect x="346.00" y="717.08" width="9.00" height="43.42" fill="#000"/>
<text x="327.50" y="772.10" font-size="7.2" text-anchor="middle" fill="#111" stroke="#111" stroke-width="0.25" >vector</text>
<text x="350.05" y="772.10" font-size="7.2" text-anchor="middle" fill="#111" stroke="#111" stroke-width="0.25" >Aiolos</text>
<text x="338.75" y="784.50" font-size="7.2" text-anchor="middle" fill="#111" stroke="#111" stroke-width="0.25" >48h</text>
<text transform="translate(298.12,730.30) rotate(-90)" x="0" y="0" font-size="7.0" text-anchor="middle" fill="#111" stroke="#111" stroke-width="0.25"><tspan font-style="italic">Sykb</tspan> mRNA</text>
<text x="338.20" y="717.11" font-size="14.5" text-anchor="middle" fill="#111" stroke="#111" stroke-width="0.25" letter-spacing="1.4">**</text>
<line x1="429.40" y1="303.50" x2="429.40" y2="365.00" stroke="#a8a8a8" stroke-width="0.9" />
<line x1="427.40" y1="365.00" x2="429.40" y2="365.00" stroke="#a8a8a8" stroke-width="0.9" />
<text x="423.50" y="367.56" font-size="7.1" text-anchor="end" fill="#111" stroke="#111" stroke-width="0.25" >0</text>
<line x1="427.40" y1="354.75" x2="429.40" y2="354.75" stroke="#a8a8a8" stroke-width="0.9" />
<text x="423.50" y="357.31" font-size="7.1" text-anchor="end" fill="#111" stroke="#111" stroke-width="0.25" >0.2</text>
<line x1="427.40" y1="344.50" x2="429.40" y2="344.50" stroke="#a8a8a8" stroke-width="0.9" />
<text x="423.50" y="347.06" font-size="7.1" text-anchor="end" fill="#111" stroke="#111" stroke-width="0.25" >0.4</text>
<line x1="427.40" y1="334.25" x2="429.40" y2="334.25" stroke="#a8a8a8" stroke-width="0.9" />
<text x="423.50" y="336.81" font-size="7.1" text-anchor="end" fill="#111" stroke="#111" stroke-width="0.25" >0.6</text>
<line x1="427.40" y1="324.00" x2="429.40" y2="324.00" stroke="#a8a8a8" stroke-width="0.9" />
<text x="423.50" y="326.56" font-size="7.1" text-anchor="end" fill="#111" stroke="#111" stroke-width="0.25" >0.8</text>
<line x1="427.40" y1="313.75" x2="429.40" y2="313.75" stroke="#a8a8a8" stroke-width="0.9" />
<text x="423.50" y="316.31" font-size="7.1" text-anchor="end" fill="#111" stroke="#111" stroke-width="0.25" >1</text>
<line x1="427.40" y1="303.50" x2="429.40" y2="303.50" stroke="#a8a8a8" stroke-width="0.9" />
<text x="423.50" y="306.06" font-size="7.1" text-anchor="end" fill="#111" stroke="#111" stroke-width="0.25" >1.2</text>
<line x1="429.40" y1="365.00" x2="492.70" y2="365.00" stroke="#a8a8a8" stroke-width="0.9" />
<line x1="429.40" y1="365.00" x2="429.40" y2="395.00" stroke="#a8a8a8" stroke-width="0.9" />
<line x1="492.70" y1="365.00" x2="492.70" y2="385.00" stroke="#a8a8a8" stroke-width="0.9" />
<line x1="450.60" y1="365.00" x2="450.60" y2="386.00" stroke="#a8a8a8" stroke-width="0.9" />
<line x1="471.70" y1="365.00" x2="471.70" y2="386.00" stroke="#a8a8a8" stroke-width="0.9" />
<rect x="436.00" y="313.75" width="8.80" height="51.25" fill="#000"/>
<line x1="461.30" y1="334.76" x2="461.30" y2="326.56" stroke="#222" stroke-width="0.8" />
<line x1="460.00" y1="326.56" x2="462.60" y2="326.56" stroke="#222" stroke-width="0.8" />
<rect x="457.00" y="334.76" width="8.60" height="30.24" fill="#000"/>
<line x1="482.35" y1="315.29" x2="482.35" y2="310.68" stroke="#222" stroke-width="0.8" />
<line x1="481.05" y1="310.68" x2="483.65" y2="310.68" stroke="#222" stroke-width="0.8" />
<rect x="478.00" y="315.29" width="8.70" height="49.71" fill="#000"/>
<text x="440.00" y="375.80" font-size="7.2" text-anchor="middle" fill="#111" stroke="#111" stroke-width="0.25" >vector</text>
<text x="461.15" y="375.80" font-size="7.2" text-anchor="middle" fill="#111" stroke="#111" stroke-width="0.25" >Ikaros</text>
<text x="482.20" y="375.80" font-size="7.2" text-anchor="middle" fill="#111" stroke="#111" stroke-width="0.25" >159A</text>
<text x="482.20" y="383.50" font-size="7.2" text-anchor="middle" fill="#111" stroke="#111" stroke-width="0.25" >Ikaros</text>
<text x="461.05" y="390.60" font-size="7.2" text-anchor="middle" fill="#111" stroke="#111" stroke-width="0.25" >48h</text>
<text transform="translate(407.92,335.30) rotate(-90)" x="0" y="0" font-size="7.0" text-anchor="middle" fill="#111" stroke="#111" stroke-width="0.25"><tspan font-style="italic">Igll1</tspan> mRNA</text>
<text x="454.90" y="313.71" font-size="14.5" text-anchor="middle" fill="#111" stroke="#111" stroke-width="0.25" letter-spacing="1.4">***</text>
<line x1="430.40" y1="397.30" x2="430.40" y2="463.00" stroke="#a8a8a8" stroke-width="0.9" />
<line x1="428.40" y1="463.00" x2="430.40" y2="463.00" stroke="#a8a8a8" stroke-width="0.9" />
<text x="424.50" y="465.56" font-size="7.1" text-anchor="end" fill="#111" stroke="#111" stroke-width="0.25" >0</text>
<line x1="428.40" y1="452.05" x2="430.40" y2="452.05" stroke="#a8a8a8" stroke-width="0.9" />
<text x="424.50" y="454.61" font-size="7.1" text-anchor="end" fill="#111" stroke="#111" stroke-width="0.25" >0.5</text>
<line x1="428.40" y1="441.10" x2="430.40" y2="441.10" stroke="#a8a8a8" stroke-width="0.9" />
<text x="424.50" y="443.66" font-size="7.1" text-anchor="end" fill="#111" stroke="#111" stroke-width="0.25" >1</text>
<line x1="428.40" y1="430.15" x2="430.40" y2="430.15" stroke="#a8a8a8" stroke-width="0.9" />
<text x="424.50" y="432.71" font-size="7.1" text-anchor="end" fill="#111" stroke="#111" stroke-width="0.25" >1.5</text>
<line x1="428.40" y1="419.20" x2="430.40" y2="419.20" stroke="#a8a8a8" stroke-width="0.9" />
<text x="424.50" y="421.76" font-size="7.1" text-anchor="end" fill="#111" stroke="#111" stroke-width="0.25" >2</text>
<line x1="428.40" y1="408.25" x2="430.40" y2="408.25" stroke="#a8a8a8" stroke-width="0.9" />
<text x="424.50" y="410.81" font-size="7.1" text-anchor="end" fill="#111" stroke="#111" stroke-width="0.25" >2.5</text>
<line x1="428.40" y1="397.30" x2="430.40" y2="397.30" stroke="#a8a8a8" stroke-width="0.9" />
<text x="424.50" y="399.86" font-size="7.1" text-anchor="end" fill="#111" stroke="#111" stroke-width="0.25" >3</text>
<line x1="430.40" y1="463.00" x2="495.00" y2="463.00" stroke="#a8a8a8" stroke-width="0.9" />
<line x1="430.40" y1="463.00" x2="430.40" y2="493.00" stroke="#a8a8a8" stroke-width="0.9" />
<line x1="495.00" y1="463.00" x2="495.00" y2="483.00" stroke="#a8a8a8" stroke-width="0.9" />
<line x1="452.30" y1="463.00" x2="452.30" y2="484.00" stroke="#a8a8a8" stroke-width="0.9" />
<line x1="474.00" y1="463.00" x2="474.00" y2="484.00" stroke="#a8a8a8" stroke-width="0.9" />
<rect x="437.00" y="441.10" width="8.80" height="21.90" fill="#000"/>
<line x1="463.00" y1="421.39" x2="463.00" y2="408.25" stroke="#222" stroke-width="0.8" />
<line x1="461.70" y1="408.25" x2="464.30" y2="408.25" stroke="#222" stroke-width="0.8" />
<rect x="458.70" y="421.39" width="8.60" height="41.61" fill="#000"/>
<line x1="484.30" y1="440.44" x2="484.30" y2="438.91" stroke="#222" stroke-width="0.8" />
<line x1="483.00" y1="438.91" x2="485.60" y2="438.91" stroke="#222" stroke-width="0.8" />
<rect x="479.80" y="440.44" width="9.00" height="22.56" fill="#000"/>
<text x="441.35" y="473.80" font-size="7.2" text-anchor="middle" fill="#111" stroke="#111" stroke-width="0.25" >vector</text>
<text x="463.15" y="473.80" font-size="7.2" text-anchor="middle" fill="#111" stroke="#111" stroke-width="0.25" >Ikaros</text>
<text x="484.50" y="473.80" font-size="7.2" text-anchor="middle" fill="#111" stroke="#111" stroke-width="0.25" >159A</text>
<text x="484.50" y="481.50" font-size="7.2" text-anchor="middle" fill="#111" stroke="#111" stroke-width="0.25" >Ikaros</text>
<text x="462.70" y="488.60" font-size="7.2" text-anchor="middle" fill="#111" stroke="#111" stroke-width="0.25" >48h</text>
<text transform="translate(410.22,431.30) rotate(-90)" x="0" y="0" font-size="7.0" text-anchor="middle" fill="#111" stroke="#111" stroke-width="0.25"><tspan font-style="italic">Foxo1</tspan> mRNA</text>
<text x="451.40" y="421.91" font-size="14.5" text-anchor="middle" fill="#111" stroke="#111" stroke-width="0.25" letter-spacing="0">*</text>
<line x1="431.20" y1="499.60" x2="431.20" y2="562.70" stroke="#a8a8a8" stroke-width="0.9" />
<line x1="429.20" y1="562.70" x2="431.20" y2="562.70" stroke="#a8a8a8" stroke-width="0.9" />
<text x="425.30" y="565.26" font-size="7.1" text-anchor="end" fill="#111" stroke="#111" stroke-width="0.25" >0</text>
<line x1="429.20" y1="550.08" x2="431.20" y2="550.08" stroke="#a8a8a8" stroke-width="0.9" />
<text x="425.30" y="552.64" font-size="7.1" text-anchor="end" fill="#111" stroke="#111" stroke-width="0.25" >0.5</text>
<line x1="429.20" y1="537.46" x2="431.20" y2="537.46" stroke="#a8a8a8" stroke-width="0.9" />
<text x="425.30" y="540.02" font-size="7.1" text-anchor="end" fill="#111" stroke="#111" stroke-width="0.25" >1</text>
<line x1="429.20" y1="524.84" x2="431.20" y2="524.84" stroke="#a8a8a8" stroke-width="0.9" />
<text x="425.30" y="527.40" font-size="7.1" text-anchor="end" fill="#111" stroke="#111" stroke-width="0.25" >1.5</text>
<line x1="429.20" y1="512.22" x2="431.20" y2="512.22" stroke="#a8a8a8" stroke-width="0.9" />
<text x="425.30" y="514.78" font-size="7.1" text-anchor="end" fill="#111" stroke="#111" stroke-width="0.25" >2</text>
<line x1="429.20" y1="499.60" x2="431.20" y2="499.60" stroke="#a8a8a8" stroke-width="0.9" />
<text x="425.30" y="502.16" font-size="7.1" text-anchor="end" fill="#111" stroke="#111" stroke-width="0.25" >2.5</text>
<line x1="431.20" y1="562.70" x2="496.50" y2="562.70" stroke="#a8a8a8" stroke-width="0.9" />
<line x1="431.20" y1="562.70" x2="431.20" y2="592.70" stroke="#a8a8a8" stroke-width="0.9" />
<line x1="496.50" y1="562.70" x2="496.50" y2="582.70" stroke="#a8a8a8" stroke-width="0.9" />
<line x1="453.50" y1="562.70" x2="453.50" y2="583.70" stroke="#a8a8a8" stroke-width="0.9" />
<line x1="475.00" y1="562.70" x2="475.00" y2="583.70" stroke="#a8a8a8" stroke-width="0.9" />
<rect x="438.00" y="537.46" width="8.70" height="25.24" fill="#000"/>
<line x1="463.80" y1="519.79" x2="463.80" y2="508.43" stroke="#222" stroke-width="0.8" />
<line x1="462.50" y1="508.43" x2="465.10" y2="508.43" stroke="#222" stroke-width="0.8" />
<rect x="459.60" y="519.79" width="8.40" height="42.91" fill="#000"/>
<line x1="485.10" y1="534.43" x2="485.10" y2="532.92" stroke="#222" stroke-width="0.8" />
<line x1="483.80" y1="532.92" x2="486.40" y2="532.92" stroke="#222" stroke-width="0.8" />
<rect x="480.80" y="534.43" width="8.60" height="28.27" fill="#000"/>
<text x="442.35" y="573.50" font-size="7.2" text-anchor="middle" fill="#111" stroke="#111" stroke-width="0.25" >vector</text>
<text x="464.25" y="573.50" font-size="7.2" text-anchor="middle" fill="#111" stroke="#111" stroke-width="0.25" >Ikaros</text>
<text x="485.75" y="573.50" font-size="7.2" text-anchor="middle" fill="#111" stroke="#111" stroke-width="0.25" >159A</text>
<text x="485.75" y="581.20" font-size="7.2" text-anchor="middle" fill="#111" stroke="#111" stroke-width="0.25" >Ikaros</text>
<text x="463.85" y="588.30" font-size="7.2" text-anchor="middle" fill="#111" stroke="#111" stroke-width="0.25" >48h</text>
<text transform="translate(411.22,530.90) rotate(-90)" x="0" y="0" font-size="7.0" text-anchor="middle" fill="#111" stroke="#111" stroke-width="0.25"><tspan font-style="italic">Cd79b</tspan> mRNA</text>
<text x="453.00" y="519.90" font-size="14.5" text-anchor="middle" fill="#111" stroke="#111" stroke-width="0.25" letter-spacing="1.4">**</text>
<line x1="431.70" y1="598.00" x2="431.70" y2="661.20" stroke="#a8a8a8" stroke-width="0.9" />
<line x1="429.70" y1="661.20" x2="431.70" y2="661.20" stroke="#a8a8a8" stroke-width="0.9" />
<text x="425.80" y="663.76" font-size="7.1" text-anchor="end" fill="#111" stroke="#111" stroke-width="0.25" >0</text>
<line x1="429.70" y1="650.67" x2="431.70" y2="650.67" stroke="#a8a8a8" stroke-width="0.9" />
<text x="425.80" y="653.22" font-size="7.1" text-anchor="end" fill="#111" stroke="#111" stroke-width="0.25" >0.5</text>
<line x1="429.70" y1="640.13" x2="431.70" y2="640.13" stroke="#a8a8a8" stroke-width="0.9" />
<text x="425.80" y="642.69" font-size="7.1" text-anchor="end" fill="#111" stroke="#111" stroke-width="0.25" >1</text>
<line x1="429.70" y1="629.60" x2="431.70" y2="629.60" stroke="#a8a8a8" stroke-width="0.9" />
<text x="425.80" y="632.16" font-size="7.1" text-anchor="end" fill="#111" stroke="#111" stroke-width="0.25" >1.5</text>
<line x1="429.70" y1="619.07" x2="431.70" y2="619.07" stroke="#a8a8a8" stroke-width="0.9" />
<text x="425.80" y="621.62" font-size="7.1" text-anchor="end" fill="#111" stroke="#111" stroke-width="0.25" >2</text>
<line x1="429.70" y1="608.53" x2="431.70" y2="608.53" stroke="#a8a8a8" stroke-width="0.9" />
<text x="425.80" y="611.09" font-size="7.1" text-anchor="end" fill="#111" stroke="#111" stroke-width="0.25" >2.5</text>
<line x1="429.70" y1="598.00" x2="431.70" y2="598.00" stroke="#a8a8a8" stroke-width="0.9" />
<text x="425.80" y="600.56" font-size="7.1" text-anchor="end" fill="#111" stroke="#111" stroke-width="0.25" >3</text>
<line x1="431.70" y1="661.20" x2="496.50" y2="661.20" stroke="#a8a8a8" stroke-width="0.9" />
<line x1="431.70" y1="661.20" x2="431.70" y2="691.20" stroke="#a8a8a8" stroke-width="0.9" />
<line x1="496.50" y1="661.20" x2="496.50" y2="681.20" stroke="#a8a8a8" stroke-width="0.9" />
<line x1="453.50" y1="661.20" x2="453.50" y2="682.20" stroke="#a8a8a8" stroke-width="0.9" />
<line x1="475.00" y1="661.20" x2="475.00" y2="682.20" stroke="#a8a8a8" stroke-width="0.9" />
<rect x="438.00" y="640.13" width="8.70" height="21.07" fill="#000"/>
<line x1="463.55" y1="619.07" x2="463.55" y2="604.32" stroke="#222" stroke-width="0.8" />
<line x1="462.25" y1="604.32" x2="464.85" y2="604.32" stroke="#222" stroke-width="0.8" />
<rect x="459.20" y="619.07" width="8.70" height="42.13" fill="#000"/>
<line x1="484.70" y1="642.24" x2="484.70" y2="640.34" stroke="#222" stroke-width="0.8" />
<line x1="483.40" y1="640.34" x2="486.00" y2="640.34" stroke="#222" stroke-width="0.8" />
<rect x="480.40" y="642.24" width="8.60" height="18.96" fill="#000"/>
<text x="442.60" y="672.00" font-size="7.2" text-anchor="middle" fill="#111" stroke="#111" stroke-width="0.25" >vector</text>
<text x="464.25" y="672.00" font-size="7.2" text-anchor="middle" fill="#111" stroke="#111" stroke-width="0.25" >Ikaros</text>
<text x="485.75" y="672.00" font-size="7.2" text-anchor="middle" fill="#111" stroke="#111" stroke-width="0.25" >159A</text>
<text x="485.75" y="679.70" font-size="7.2" text-anchor="middle" fill="#111" stroke="#111" stroke-width="0.25" >Ikaros</text>
<text x="464.10" y="686.80" font-size="7.2" text-anchor="middle" fill="#111" stroke="#111" stroke-width="0.25" >48h</text>
<text transform="translate(410.22,632.80) rotate(-90)" x="0" y="0" font-size="7.0" text-anchor="middle" fill="#111" stroke="#111" stroke-width="0.25"><tspan font-style="italic">Blnk</tspan> mRNA</text>
<text x="451.40" y="618.61" font-size="14.5" text-anchor="middle" fill="#111" stroke="#111" stroke-width="0.25" letter-spacing="0">*</text>
<line x1="432.00" y1="698.60" x2="432.00" y2="760.50" stroke="#a8a8a8" stroke-width="0.9" />
<line x1="430.00" y1="760.50" x2="432.00" y2="760.50" stroke="#a8a8a8" stroke-width="0.9" />
<text x="426.10" y="763.06" font-size="7.1" text-anchor="end" fill="#111" stroke="#111" stroke-width="0.25" >0</text>
<line x1="430.00" y1="748.12" x2="432.00" y2="748.12" stroke="#a8a8a8" stroke-width="0.9" />
<text x="426.10" y="750.68" font-size="7.1" text-anchor="end" fill="#111" stroke="#111" stroke-width="0.25" >0.5</text>
<line x1="430.00" y1="735.74" x2="432.00" y2="735.74" stroke="#a8a8a8" stroke-width="0.9" />
<text x="426.10" y="738.30" font-size="7.1" text-anchor="end" fill="#111" stroke="#111" stroke-width="0.25" >1</text>
<line x1="430.00" y1="723.36" x2="432.00" y2="723.36" stroke="#a8a8a8" stroke-width="0.9" />
<text x="426.10" y="725.92" font-size="7.1" text-anchor="end" fill="#111" stroke="#111" stroke-width="0.25" >1.5</text>
<line x1="430.00" y1="710.98" x2="432.00" y2="710.98" stroke="#a8a8a8" stroke-width="0.9" />
<text x="426.10" y="713.54" font-size="7.1" text-anchor="end" fill="#111" stroke="#111" stroke-width="0.25" >2</text>
<line x1="430.00" y1="698.60" x2="432.00" y2="698.60" stroke="#a8a8a8" stroke-width="0.9" />
<text x="426.10" y="701.16" font-size="7.1" text-anchor="end" fill="#111" stroke="#111" stroke-width="0.25" >2.5</text>
<line x1="432.00" y1="760.50" x2="497.00" y2="760.50" stroke="#a8a8a8" stroke-width="0.9" />
<line x1="432.00" y1="760.50" x2="432.00" y2="790.50" stroke="#a8a8a8" stroke-width="0.9" />
<line x1="497.00" y1="760.50" x2="497.00" y2="780.50" stroke="#a8a8a8" stroke-width="0.9" />
<line x1="453.80" y1="760.50" x2="453.80" y2="781.50" stroke="#a8a8a8" stroke-width="0.9" />
<line x1="475.40" y1="760.50" x2="475.40" y2="781.50" stroke="#a8a8a8" stroke-width="0.9" />
<rect x="438.50" y="735.74" width="8.50" height="24.76" fill="#000"/>
<line x1="463.95" y1="717.91" x2="463.95" y2="702.31" stroke="#222" stroke-width="0.8" />
<line x1="462.65" y1="702.31" x2="465.25" y2="702.31" stroke="#222" stroke-width="0.8" />
<rect x="459.60" y="717.91" width="8.70" height="42.59" fill="#000"/>
<line x1="484.90" y1="737.47" x2="484.90" y2="735.74" stroke="#222" stroke-width="0.8" />
<line x1="483.60" y1="735.74" x2="486.20" y2="735.74" stroke="#222" stroke-width="0.8" />
<rect x="480.80" y="737.47" width="8.20" height="23.03" fill="#000"/>
<text x="442.90" y="771.30" font-size="7.2" text-anchor="middle" fill="#111" stroke="#111" stroke-width="0.25" >vector</text>
<text x="464.60" y="771.30" font-size="7.2" text-anchor="middle" fill="#111" stroke="#111" stroke-width="0.25" >Ikaros</text>
<text x="486.20" y="771.30" font-size="7.2" text-anchor="middle" fill="#111" stroke="#111" stroke-width="0.25" >159A</text>
<text x="486.20" y="779.00" font-size="7.2" text-anchor="middle" fill="#111" stroke="#111" stroke-width="0.25" >Ikaros</text>
<text x="464.50" y="786.10" font-size="7.2" text-anchor="middle" fill="#111" stroke="#111" stroke-width="0.25" >48h</text>
<text transform="translate(411.22,731.30) rotate(-90)" x="0" y="0" font-size="7.0" text-anchor="middle" fill="#111" stroke="#111" stroke-width="0.25"><tspan font-style="italic">Sykb</tspan> mRNA</text>
<text x="453.00" y="717.61" font-size="14.5" text-anchor="middle" fill="#111" stroke="#111" stroke-width="0.25" letter-spacing="0">*</text>
<line x1="50.80" y1="305.00" x2="50.80" y2="365.80" stroke="#a8a8a8" stroke-width="0.9" />
<line x1="48.80" y1="365.80" x2="50.80" y2="365.80" stroke="#a8a8a8" stroke-width="0.9" />
<text x="45.00" y="368.68" font-size="8" text-anchor="end" fill="#111" stroke="#111" stroke-width="0.25" >0</text>
<line x1="48.80" y1="350.60" x2="50.80" y2="350.60" stroke="#a8a8a8" stroke-width="0.9" />
<text x="45.00" y="353.48" font-size="8" text-anchor="end" fill="#111" stroke="#111" stroke-width="0.25" >0.5</text>
<line x1="48.80" y1="335.40" x2="50.80" y2="335.40" stroke="#a8a8a8" stroke-width="0.9" />
<text x="45.00" y="338.28" font-size="8" text-anchor="end" fill="#111" stroke="#111" stroke-width="0.25" >1</text>
<line x1="48.80" y1="320.20" x2="50.80" y2="320.20" stroke="#a8a8a8" stroke-width="0.9" />
<text x="45.00" y="323.08" font-size="8" text-anchor="end" fill="#111" stroke="#111" stroke-width="0.25" >1.5</text>
<line x1="48.80" y1="305.00" x2="50.80" y2="305.00" stroke="#a8a8a8" stroke-width="0.9" />
<text x="45.00" y="307.88" font-size="8" text-anchor="end" fill="#111" stroke="#111" stroke-width="0.25" >2</text>
<line x1="50.80" y1="365.80" x2="137.30" y2="365.80" stroke="#a8a8a8" stroke-width="0.9" />
<line x1="50.80" y1="365.80" x2="50.80" y2="392.80" stroke="#a8a8a8" stroke-width="0.9" />
<line x1="137.30" y1="365.80" x2="137.30" y2="392.80" stroke="#a8a8a8" stroke-width="0.9" />
<line x1="72.00" y1="365.80" x2="72.00" y2="381.80" stroke="#a8a8a8" stroke-width="0.9" />
<line x1="114.60" y1="365.80" x2="114.60" y2="381.80" stroke="#a8a8a8" stroke-width="0.9" />
<line x1="93.50" y1="365.80" x2="93.50" y2="392.80" stroke="#a8a8a8" stroke-width="0.9" />
<line x1="58.85" y1="334.49" x2="58.85" y2="330.23" stroke="#222" stroke-width="0.8" />
<line x1="57.55" y1="330.23" x2="60.15" y2="330.23" stroke="#222" stroke-width="0.8" />
<rect x="56.00" y="334.49" width="5.70" height="31.31" fill="#000"/>
<rect x="61.70" y="335.40" width="5.80" height="30.40" fill="#a9a9a9"/>
<line x1="80.00" y1="340.26" x2="80.00" y2="335.40" stroke="#222" stroke-width="0.8" />
<line x1="78.70" y1="335.40" x2="81.30" y2="335.40" stroke="#222" stroke-width="0.8" />
<rect x="77.00" y="340.26" width="6.00" height="25.54" fill="#000"/>
<line x1="86.00" y1="339.05" x2="86.00" y2="332.97" stroke="#999" stroke-width="0.8" />
<line x1="84.70" y1="332.97" x2="87.30" y2="332.97" stroke="#999" stroke-width="0.8" />
<rect x="83.00" y="339.05" width="6.00" height="26.75" fill="#a9a9a9"/>
<line x1="101.45" y1="336.01" x2="101.45" y2="321.11" stroke="#222" stroke-width="0.8" />
<line x1="100.15" y1="321.11" x2="102.75" y2="321.11" stroke="#222" stroke-width="0.8" />
<rect x="98.30" y="336.01" width="6.30" height="29.79" fill="#000"/>
<line x1="107.70" y1="346.04" x2="107.70" y2="339.66" stroke="#999" stroke-width="0.8" />
<line x1="106.40" y1="339.66" x2="109.00" y2="339.66" stroke="#999" stroke-width="0.8" />
<rect x="104.60" y="346.04" width="6.20" height="19.76" fill="#a9a9a9"/>
<line x1="122.70" y1="336.62" x2="122.70" y2="325.37" stroke="#222" stroke-width="0.8" />
<line x1="121.40" y1="325.37" x2="124.00" y2="325.37" stroke="#222" stroke-width="0.8" />
<rect x="119.40" y="336.62" width="6.60" height="29.18" fill="#000"/>
<line x1="129.00" y1="351.82" x2="129.00" y2="348.47" stroke="#999" stroke-width="0.8" />
<line x1="127.70" y1="348.47" x2="130.30" y2="348.47" stroke="#999" stroke-width="0.8" />
<rect x="126.00" y="351.82" width="6.00" height="13.98" fill="#a9a9a9"/>
<text x="61.40" y="376.60" font-size="8" text-anchor="middle" fill="#111" stroke="#111" stroke-width="0.25" >2h</text>
<text x="82.75" y="376.60" font-size="8" text-anchor="middle" fill="#111" stroke="#111" stroke-width="0.25" >6h</text>
<text x="104.05" y="376.60" font-size="8" text-anchor="middle" fill="#111" stroke="#111" stroke-width="0.25" >2h</text>
<text x="125.95" y="376.60" font-size="8" text-anchor="middle" fill="#111" stroke="#111" stroke-width="0.25" >6h</text>
<text x="72.15" y="389.00" font-size="8" text-anchor="middle" fill="#111" stroke="#111" stroke-width="0.25" >vector</text>
<text x="115.40" y="389.00" font-size="8" text-anchor="middle" fill="#111" stroke="#111" stroke-width="0.25" >Ikaros-ERt2</text>
<text transform="translate(29.67,337.60) rotate(-90)" x="0" y="0" font-size="7.7" text-anchor="middle" fill="#111" stroke="#111" stroke-width="0.25"><tspan font-style="italic">Vpreb1</tspan> mRNA</text>
<text x="125.50" y="326.11" font-size="14.5" text-anchor="middle" fill="#111" stroke="#111" stroke-width="0.25" letter-spacing="0">*</text>
<rect x="58.30" y="310.00" width="3.80" height="3.60" fill="#000"/>
<text x="63.10" y="313.80" font-size="7.8" text-anchor="start" fill="#111" stroke="#111" stroke-width="0.25" >carrier</text>
<rect x="58.30" y="318.40" width="3.80" height="3.60" fill="#a9a9a9"/>
<text x="63.10" y="322.20" font-size="7.8" text-anchor="start" fill="#111" stroke="#111" stroke-width="0.25" >4-OHT</text>
<line x1="51.20" y1="399.70" x2="51.20" y2="463.20" stroke="#a8a8a8" stroke-width="0.9" />
<line x1="49.20" y1="463.20" x2="51.20" y2="463.20" stroke="#a8a8a8" stroke-width="0.9" />
<text x="45.40" y="466.08" font-size="8" text-anchor="end" fill="#111" stroke="#111" stroke-width="0.25" >0</text>
<line x1="49.20" y1="447.32" x2="51.20" y2="447.32" stroke="#a8a8a8" stroke-width="0.9" />
<text x="45.40" y="450.20" font-size="8" text-anchor="end" fill="#111" stroke="#111" stroke-width="0.25" >0.5</text>
<line x1="49.20" y1="431.45" x2="51.20" y2="431.45" stroke="#a8a8a8" stroke-width="0.9" />
<text x="45.40" y="434.33" font-size="8" text-anchor="end" fill="#111" stroke="#111" stroke-width="0.25" >1</text>
<line x1="49.20" y1="415.57" x2="51.20" y2="415.57" stroke="#a8a8a8" stroke-width="0.9" />
<text x="45.40" y="418.45" font-size="8" text-anchor="end" fill="#111" stroke="#111" stroke-width="0.25" >1.5</text>
<line x1="49.20" y1="399.70" x2="51.20" y2="399.70" stroke="#a8a8a8" stroke-width="0.9" />
<text x="45.40" y="402.58" font-size="8" text-anchor="end" fill="#111" stroke="#111" stroke-width="0.25" >2</text>
<line x1="51.20" y1="463.20" x2="141.00" y2="463.20" stroke="#a8a8a8" stroke-width="0.9" />
<line x1="51.20" y1="463.20" x2="51.20" y2="490.20" stroke="#a8a8a8" stroke-width="0.9" />
<line x1="141.00" y1="463.20" x2="141.00" y2="490.20" stroke="#a8a8a8" stroke-width="0.9" />
<line x1="97.30" y1="463.20" x2="97.30" y2="490.20" stroke="#a8a8a8" stroke-width="0.9" />
<line x1="59.85" y1="429.23" x2="59.85" y2="427.64" stroke="#222" stroke-width="0.8" />
<line x1="58.55" y1="427.64" x2="61.15" y2="427.64" stroke="#222" stroke-width="0.8" />
<rect x="57.00" y="429.23" width="5.70" height="33.97" fill="#000"/>
<rect x="62.70" y="431.45" width="5.80" height="31.75" fill="#a9a9a9"/>
<rect x="79.00" y="433.99" width="6.40" height="29.21" fill="#000"/>
<line x1="88.45" y1="438.12" x2="88.45" y2="436.85" stroke="#999" stroke-width="0.8" />
<line x1="87.15" y1="436.85" x2="89.75" y2="436.85" stroke="#999" stroke-width="0.8" />
<rect x="85.40" y="438.12" width="6.10" height="25.08" fill="#a9a9a9"/>
<line x1="104.25" y1="433.36" x2="104.25" y2="425.10" stroke="#222" stroke-width="0.8" />
<line x1="102.95" y1="425.10" x2="105.55" y2="425.10" stroke="#222" stroke-width="0.8" />
<rect x="101.00" y="433.36" width="6.50" height="29.84" fill="#000"/>
<line x1="110.60" y1="420.97" x2="110.60" y2="412.40" stroke="#999" stroke-width="0.8" />
<line x1="109.30" y1="412.40" x2="111.90" y2="412.40" stroke="#999" stroke-width="0.8" />
<rect x="107.50" y="420.97" width="6.20" height="42.23" fill="#a9a9a9"/>
<line x1="126.90" y1="436.53" x2="126.90" y2="431.45" stroke="#222" stroke-width="0.8" />
<line x1="125.60" y1="431.45" x2="128.20" y2="431.45" stroke="#222" stroke-width="0.8" />
<rect x="123.80" y="436.53" width="6.20" height="26.67" fill="#000"/>
<line x1="133.15" y1="407.95" x2="133.15" y2="403.83" stroke="#999" stroke-width="0.8" />
<line x1="131.85" y1="403.83" x2="134.45" y2="403.83" stroke="#999" stroke-width="0.8" />
<rect x="130.00" y="407.95" width="6.30" height="55.24" fill="#a9a9a9"/>
<text x="62.73" y="473.50" font-size="8" text-anchor="middle" fill="#111" stroke="#111" stroke-width="0.25" >2h</text>
<text x="85.78" y="473.50" font-size="8" text-anchor="middle" fill="#111" stroke="#111" stroke-width="0.25" >6h</text>
<text x="108.22" y="473.50" font-size="8" text-anchor="middle" fill="#111" stroke="#111" stroke-width="0.25" >2h</text>
<text x="130.07" y="473.50" font-size="8" text-anchor="middle" fill="#111" stroke="#111" stroke-width="0.25" >6h</text>
<text x="74.25" y="486.40" font-size="8" text-anchor="middle" fill="#111" stroke="#111" stroke-width="0.25" >vector</text>
<text x="119.15" y="486.40" font-size="8" text-anchor="middle" fill="#111" stroke="#111" stroke-width="0.25" >Ikaros-ERt2</text>
<text transform="translate(30.77,431.00) rotate(-90)" x="0" y="0" font-size="7.7" text-anchor="middle" fill="#111" stroke="#111" stroke-width="0.25"><tspan font-style="italic">Foxo1</tspan> mRNA</text>
<text x="106.40" y="416.41" font-size="14.5" text-anchor="middle" fill="#111" stroke="#111" stroke-width="0.25" letter-spacing="0">*</text>
<text x="130.50" y="406.31" font-size="14.5" text-anchor="middle" fill="#111" stroke="#111" stroke-width="0.25" letter-spacing="1.4">**</text>
<rect x="62.70" y="404.00" width="3.80" height="3.60" fill="#000"/>
<text x="67.50" y="407.80" font-size="7.8" text-anchor="start" fill="#111" stroke="#111" stroke-width="0.25" >carrier</text>
<rect x="62.70" y="413.20" width="3.80" height="3.60" fill="#a9a9a9"/>
<text x="67.50" y="417.00" font-size="7.8" text-anchor="start" fill="#111" stroke="#111" stroke-width="0.25" >4-OHT</text>
<line x1="49.20" y1="499.30" x2="49.20" y2="560.80" stroke="#a8a8a8" stroke-width="0.9" />
<line x1="47.20" y1="560.80" x2="49.20" y2="560.80" stroke="#a8a8a8" stroke-width="0.9" />
<text x="43.40" y="563.68" font-size="8" text-anchor="end" fill="#111" stroke="#111" stroke-width="0.25" >0</text>
<line x1="47.20" y1="545.42" x2="49.20" y2="545.42" stroke="#a8a8a8" stroke-width="0.9" />
<text x="43.40" y="548.30" font-size="8" text-anchor="end" fill="#111" stroke="#111" stroke-width="0.25" >0.5</text>
<line x1="47.20" y1="530.05" x2="49.20" y2="530.05" stroke="#a8a8a8" stroke-width="0.9" />
<text x="43.40" y="532.93" font-size="8" text-anchor="end" fill="#111" stroke="#111" stroke-width="0.25" >1</text>
<line x1="47.20" y1="514.67" x2="49.20" y2="514.67" stroke="#a8a8a8" stroke-width="0.9" />
<text x="43.40" y="517.55" font-size="8" text-anchor="end" fill="#111" stroke="#111" stroke-width="0.25" >1.5</text>
<line x1="47.20" y1="499.30" x2="49.20" y2="499.30" stroke="#a8a8a8" stroke-width="0.9" />
<text x="43.40" y="502.18" font-size="8" text-anchor="end" fill="#111" stroke="#111" stroke-width="0.25" >2</text>
<line x1="49.20" y1="560.80" x2="144.40" y2="560.80" stroke="#a8a8a8" stroke-width="0.9" />
<line x1="49.20" y1="560.80" x2="49.20" y2="587.80" stroke="#a8a8a8" stroke-width="0.9" />
<line x1="144.40" y1="560.80" x2="144.40" y2="587.80" stroke="#a8a8a8" stroke-width="0.9" />
<line x1="73.80" y1="560.80" x2="73.80" y2="576.80" stroke="#a8a8a8" stroke-width="0.9" />
<line x1="121.00" y1="560.80" x2="121.00" y2="576.80" stroke="#a8a8a8" stroke-width="0.9" />
<line x1="97.30" y1="560.80" x2="97.30" y2="587.80" stroke="#a8a8a8" stroke-width="0.9" />
<line x1="58.55" y1="525.75" x2="58.55" y2="522.67" stroke="#222" stroke-width="0.8" />
<line x1="57.25" y1="522.67" x2="59.85" y2="522.67" stroke="#222" stroke-width="0.8" />
<rect x="55.40" y="525.75" width="6.30" height="35.05" fill="#000"/>
<rect x="61.70" y="530.05" width="6.30" height="30.75" fill="#a9a9a9"/>
<line x1="82.05" y1="533.74" x2="82.05" y2="529.13" stroke="#222" stroke-width="0.8" />
<line x1="80.75" y1="529.13" x2="83.35" y2="529.13" stroke="#222" stroke-width="0.8" />
<rect x="78.70" y="533.74" width="6.70" height="27.06" fill="#000"/>
<rect x="85.40" y="533.74" width="6.60" height="27.06" fill="#a9a9a9"/>
<line x1="105.75" y1="535.28" x2="105.75" y2="528.20" stroke="#222" stroke-width="0.8" />
<line x1="104.45" y1="528.20" x2="107.05" y2="528.20" stroke="#222" stroke-width="0.8" />
<rect x="102.70" y="535.28" width="6.10" height="25.52" fill="#000"/>
<line x1="112.20" y1="534.97" x2="112.20" y2="531.59" stroke="#999" stroke-width="0.8" />
<line x1="110.90" y1="531.59" x2="113.50" y2="531.59" stroke="#999" stroke-width="0.8" />
<rect x="108.80" y="534.97" width="6.80" height="25.83" fill="#a9a9a9"/>
<line x1="129.45" y1="532.20" x2="129.45" y2="520.52" stroke="#222" stroke-width="0.8" />
<line x1="128.15" y1="520.52" x2="130.75" y2="520.52" stroke="#222" stroke-width="0.8" />
<rect x="126.00" y="532.20" width="6.90" height="28.60" fill="#000"/>
<line x1="136.25" y1="517.44" x2="136.25" y2="506.06" stroke="#999" stroke-width="0.8" />
<line x1="134.95" y1="506.06" x2="137.55" y2="506.06" stroke="#999" stroke-width="0.8" />
<rect x="132.90" y="517.44" width="6.70" height="43.36" fill="#a9a9a9"/>
<text x="61.50" y="572.40" font-size="8" text-anchor="middle" fill="#111" stroke="#111" stroke-width="0.25" >2h</text>
<text x="85.55" y="572.40" font-size="8" text-anchor="middle" fill="#111" stroke="#111" stroke-width="0.25" >6h</text>
<text x="109.15" y="572.40" font-size="8" text-anchor="middle" fill="#111" stroke="#111" stroke-width="0.25" >2h</text>
<text x="132.70" y="572.40" font-size="8" text-anchor="middle" fill="#111" stroke="#111" stroke-width="0.25" >6h</text>
<text x="73.25" y="584.80" font-size="8" text-anchor="middle" fill="#111" stroke="#111" stroke-width="0.25" >vector</text>
<text x="120.85" y="584.80" font-size="8" text-anchor="middle" fill="#111" stroke="#111" stroke-width="0.25" >Ikaros-ERt2</text>
<text transform="translate(28.37,531.00) rotate(-90)" x="0" y="0" font-size="7.7" text-anchor="middle" fill="#111" stroke="#111" stroke-width="0.25"><tspan font-style="italic">Cd79b</tspan> mRNA</text>
<text x="131.40" y="510.41" font-size="14.5" text-anchor="middle" fill="#111" stroke="#111" stroke-width="0.25" letter-spacing="0">*</text>
<rect x="71.30" y="503.60" width="3.80" height="3.60" fill="#000"/>
<text x="76.10" y="507.40" font-size="7.8" text-anchor="start" fill="#111" stroke="#111" stroke-width="0.25" >carrier</text>
<rect x="71.30" y="515.20" width="3.80" height="3.60" fill="#a9a9a9"/>
<text x="76.10" y="519.00" font-size="7.8" text-anchor="start" fill="#111" stroke="#111" stroke-width="0.25" >4-OHT</text>
<text x="0.80" y="304.30" font-size="12.8" text-anchor="start" fill="#000" stroke="#000" stroke-width="0.25" font-weight="bold" >B</text>
<text x="281.00" y="304.60" font-size="12.8" text-anchor="start" fill="#000" stroke="#000" stroke-width="0.25" font-weight="bold" >C</text>
<text x="399.20" y="304.60" font-size="12.8" text-anchor="start" fill="#000" stroke="#000" stroke-width="0.25" font-weight="bold" >D</text>
</svg></body></html>
